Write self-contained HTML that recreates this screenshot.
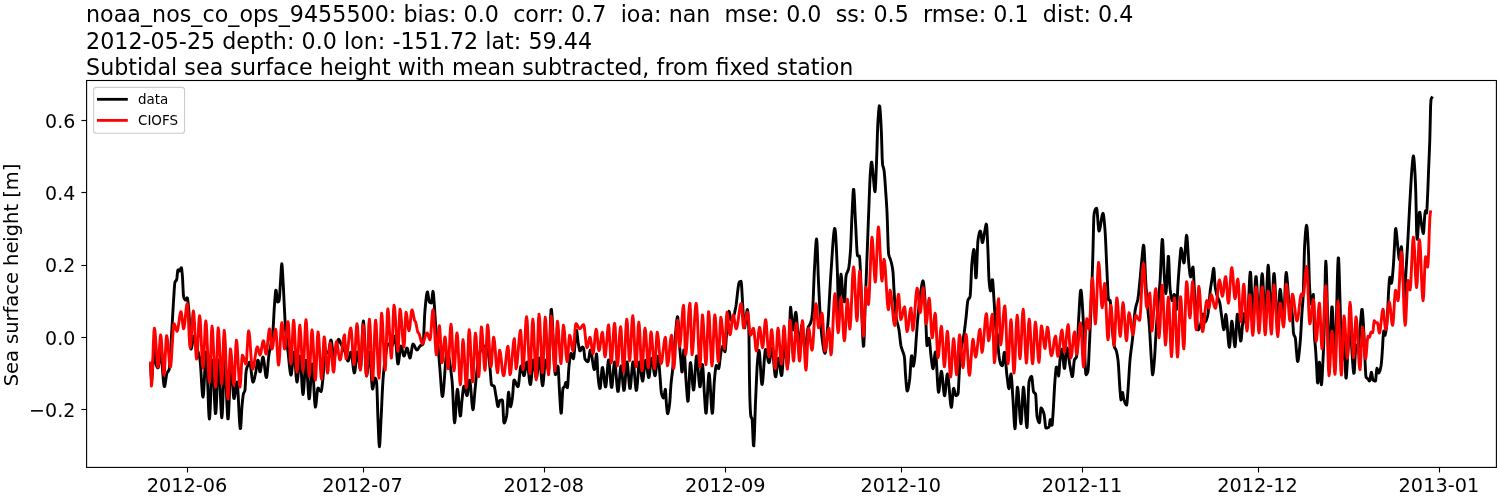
<!DOCTYPE html>
<html lang="en"><head><meta charset="utf-8"><title>Subtidal sea surface height</title>
<style>html,body{margin:0;padding:0;background:#fff;}body{width:1500px;height:500px;overflow:hidden;}svg{display:block;}text{font-family:"DejaVu Sans", "Liberation Sans", sans-serif;fill:#000;}</style></head><body>
<svg width="1500" height="500" viewBox="0 0 1500 500">
<rect width="1500" height="500" fill="#fff"/>
<g font-size="22.2">
<text x="86" y="21.6" textLength="1047.4" lengthAdjust="spacing" xml:space="preserve" style="white-space:pre">noaa_nos_co_ops_9455500: bias: 0.0  corr: 0.7  ioa: nan  mse: 0.0  ss: 0.5  rmse: 0.1  dist: 0.4</text>
<text x="86" y="49.2" textLength="506" lengthAdjust="spacing">2012-05-25 depth: 0.0 lon: -151.72 lat: 59.44</text>
<text x="86" y="74.6" textLength="767.4" lengthAdjust="spacing">Subtidal sea surface height with mean subtracted, from fixed station</text>
</g>
<defs><clipPath id="c"><rect x="86.6" y="80.5" width="1409.8000000000002" height="386.9"/></clipPath></defs>
<g clip-path="url(#c)" fill="none" stroke-linejoin="round" stroke-linecap="square">
<path d="M150.6,365.0 L151.0,374.0 L151.4,379.3 L151.8,379.4 L152.2,375.2 L152.6,368.9 L153.0,362.6 L153.4,357.6 L153.8,352.3 L154.2,348.6 L154.6,348.6 L155.0,352.6 L155.4,358.1 L155.8,362.8 L156.2,364.7 L156.6,365.9 L157.0,366.9 L157.4,367.6 L157.8,367.9 L158.2,367.7 L158.6,365.8 L159.0,362.7 L159.4,359.1 L159.8,355.6 L160.2,353.0 L160.6,352.0 L161.0,353.1 L161.4,356.0 L161.8,360.2 L162.2,365.3 L162.6,370.7 L163.0,376.0 L163.4,380.8 L163.8,384.4 L164.2,386.4 L164.6,386.5 L165.0,385.1 L165.4,382.7 L165.8,379.9 L166.2,377.0 L166.6,374.5 L167.0,373.0 L167.4,372.3 L167.8,371.8 L168.2,371.4 L168.6,370.8 L169.0,370.0 L169.4,367.9 L169.8,363.8 L170.2,358.3 L170.6,351.7 L171.0,344.5 L171.4,337.2 L171.8,330.2 L172.2,323.8 L172.6,316.8 L173.0,309.8 L173.4,303.0 L173.8,296.9 L174.2,290.4 L174.6,284.9 L175.0,282.0 L175.4,281.3 L175.8,281.0 L176.2,280.6 L176.6,280.0 L177.0,277.5 L177.4,273.4 L177.8,270.2 L178.2,269.8 L178.6,270.2 L179.0,270.7 L179.4,271.0 L179.8,270.7 L180.2,269.8 L180.6,268.9 L181.0,268.0 L181.4,267.7 L181.8,269.6 L182.2,273.7 L182.6,279.0 L183.0,287.7 L183.4,295.3 L183.8,297.6 L184.2,298.5 L184.6,299.2 L185.0,299.7 L185.4,300.0 L185.8,299.9 L186.2,299.3 L186.6,298.4 L187.0,297.8 L187.4,298.0 L187.8,300.3 L188.2,303.9 L188.6,308.0 L189.0,313.0 L189.4,319.4 L189.8,326.5 L190.2,334.2 L190.6,344.0 L191.0,349.1 L191.4,348.5 L191.8,346.8 L192.2,344.5 L192.6,341.9 L193.0,339.4 L193.4,337.4 L193.8,336.2 L194.2,336.1 L194.6,336.9 L195.0,338.2 L195.4,340.0 L195.8,342.0 L196.2,344.2 L196.6,346.2 L197.0,348.0 L197.4,349.5 L197.8,350.9 L198.2,352.2 L198.6,353.6 L199.0,355.1 L199.4,356.8 L199.8,358.8 L200.2,361.5 L200.6,366.2 L201.0,372.3 L201.4,379.1 L201.8,385.8 L202.2,391.5 L202.6,395.6 L203.0,397.1 L203.4,395.2 L203.8,390.1 L204.2,382.8 L204.6,374.5 L205.0,366.3 L205.4,359.0 L205.8,353.9 L206.2,352.0 L206.6,354.9 L207.0,362.5 L207.4,373.2 L207.8,385.6 L208.2,397.9 L208.6,408.6 L209.0,416.2 L209.4,419.1 L209.8,416.2 L210.2,408.7 L210.6,398.3 L211.0,386.6 L211.4,375.3 L211.8,366.1 L212.2,360.8 L212.6,360.6 L213.0,365.0 L213.4,372.5 L213.8,382.0 L214.2,392.1 L214.6,401.6 L215.0,409.1 L215.4,413.5 L215.8,413.4 L216.2,408.5 L216.6,400.1 L217.0,389.8 L217.4,379.0 L217.8,369.5 L218.2,362.6 L218.6,360.0 L219.0,362.5 L219.4,369.0 L219.8,378.3 L220.2,388.9 L220.6,399.4 L221.0,408.7 L221.4,415.2 L221.8,417.7 L222.2,414.9 L222.6,407.6 L223.0,397.4 L223.4,386.0 L223.8,375.0 L224.2,366.0 L224.6,360.7 L225.0,360.7 L225.4,365.5 L225.8,373.8 L226.2,384.2 L226.6,395.3 L227.0,405.7 L227.4,414.0 L227.8,418.8 L228.2,418.8 L228.6,413.7 L229.0,405.1 L229.4,394.5 L229.8,383.5 L230.2,373.7 L230.6,366.7 L231.0,364.0 L231.4,365.7 L231.8,370.1 L232.2,376.2 L232.6,383.1 L233.0,389.7 L233.4,395.1 L233.8,398.3 L234.2,398.5 L234.6,397.0 L235.0,394.4 L235.4,391.2 L235.8,387.9 L236.2,384.9 L236.6,382.8 L237.0,382.0 L237.4,383.8 L237.8,388.6 L238.2,395.5 L238.6,403.5 L239.0,411.7 L239.4,419.3 L239.8,425.2 L240.2,428.6 L240.6,428.3 L241.0,423.3 L241.4,415.8 L241.8,408.6 L242.2,403.9 L242.6,399.8 L243.0,396.3 L243.4,394.0 L243.8,392.8 L244.2,392.1 L244.6,391.4 L245.0,390.0 L245.4,383.6 L245.8,374.5 L246.2,370.8 L246.6,368.9 L247.0,367.5 L247.4,366.4 L247.8,365.5 L248.2,364.5 L248.6,363.5 L249.0,362.6 L249.4,362.1 L249.8,362.2 L250.2,363.7 L250.6,366.2 L251.0,369.4 L251.4,372.9 L251.8,376.4 L252.2,379.3 L252.6,381.3 L253.0,382.1 L253.4,381.7 L253.8,380.8 L254.2,379.3 L254.6,377.6 L255.0,375.7 L255.4,373.9 L255.8,372.0 L256.2,369.5 L256.6,366.7 L257.0,363.9 L257.4,361.6 L257.8,360.2 L258.2,360.3 L258.6,362.6 L259.0,366.0 L259.4,369.4 L259.8,371.7 L260.2,371.8 L260.6,370.4 L261.0,368.1 L261.4,365.2 L261.8,362.3 L262.2,359.6 L262.6,357.7 L263.0,357.0 L263.4,357.8 L263.8,359.9 L264.2,362.9 L264.6,366.4 L265.0,370.1 L265.4,373.4 L265.8,376.0 L266.2,377.5 L266.6,377.4 L267.0,375.2 L267.4,371.4 L267.8,366.7 L268.2,361.8 L268.6,357.3 L269.0,354.0 L269.4,351.7 L269.8,349.8 L270.2,348.0 L270.6,346.1 L271.0,344.0 L271.4,341.7 L271.8,339.3 L272.2,336.7 L272.6,333.7 L273.0,330.0 L273.4,324.2 L273.8,316.4 L274.2,309.0 L274.6,303.4 L275.0,297.9 L275.4,293.2 L275.8,290.3 L276.2,290.4 L276.6,293.7 L277.0,298.2 L277.4,301.5 L277.8,302.0 L278.2,301.8 L278.6,301.5 L279.0,301.0 L279.4,298.4 L279.8,292.9 L280.2,286.2 L280.6,280.0 L281.0,273.4 L281.4,266.7 L281.8,263.7 L282.2,266.5 L282.6,272.9 L283.0,280.0 L283.4,287.3 L283.8,295.6 L284.2,304.0 L284.6,311.9 L285.0,319.9 L285.4,327.1 L285.8,332.5 L286.2,336.8 L286.6,340.5 L287.0,344.0 L287.4,347.3 L287.8,350.4 L288.2,353.7 L288.6,357.4 L289.0,361.5 L289.4,365.5 L289.8,369.2 L290.2,372.3 L290.6,374.3 L291.0,375.1 L291.4,374.0 L291.8,371.0 L292.2,367.0 L292.6,362.4 L293.0,358.0 L293.4,354.4 L293.8,352.3 L294.2,352.4 L294.6,355.1 L295.0,359.8 L295.4,365.5 L295.8,371.5 L296.2,376.8 L296.6,380.6 L297.0,382.1 L297.4,380.8 L297.8,377.5 L298.2,372.9 L298.6,367.7 L299.0,362.8 L299.4,358.7 L299.8,356.3 L300.2,356.5 L300.6,360.0 L301.0,366.0 L301.4,373.3 L301.8,380.9 L302.2,387.7 L302.6,392.6 L303.0,394.5 L303.4,392.8 L303.8,388.4 L304.2,382.4 L304.6,375.5 L305.0,368.9 L305.4,363.6 L305.8,360.4 L306.2,360.4 L306.6,363.6 L307.0,369.1 L307.4,375.9 L307.8,383.2 L308.2,390.0 L308.6,395.5 L309.0,398.7 L309.4,398.7 L309.8,395.4 L310.2,390.0 L310.6,383.3 L311.0,376.4 L311.4,370.2 L311.8,365.7 L312.2,364.0 L312.6,365.9 L313.0,370.7 L313.4,377.6 L313.8,385.6 L314.2,393.5 L314.6,400.4 L315.0,405.2 L315.4,407.1 L315.8,405.9 L316.2,402.8 L316.6,398.6 L317.0,394.3 L317.4,390.6 L317.8,388.3 L318.2,388.0 L318.6,388.4 L319.0,388.9 L319.4,389.6 L319.8,390.3 L320.2,390.9 L320.6,391.3 L321.0,391.5 L321.4,390.7 L321.8,388.5 L322.2,385.3 L322.6,381.7 L323.0,378.0 L323.4,373.0 L323.8,366.3 L324.2,359.4 L324.6,354.1 L325.0,352.0 L325.4,352.1 L325.8,352.2 L326.2,352.4 L326.6,352.6 L327.0,352.8 L327.4,353.0 L327.8,353.1 L328.2,352.9 L328.6,351.7 L329.0,349.7 L329.4,347.2 L329.8,344.6 L330.2,342.3 L330.6,340.6 L331.0,340.0 L331.4,340.9 L331.8,343.3 L332.2,346.6 L332.6,350.3 L333.0,353.9 L333.4,356.8 L333.8,358.5 L334.2,358.5 L334.6,357.1 L335.0,354.9 L335.4,352.1 L335.8,349.3 L336.2,346.9 L336.6,345.2 L337.0,343.6 L337.4,342.0 L337.8,340.6 L338.2,339.7 L338.6,339.3 L339.0,339.5 L339.4,340.2 L339.8,341.1 L340.2,342.1 L340.6,343.1 L341.0,344.0 L341.4,344.8 L341.8,345.5 L342.2,346.3 L342.6,347.0 L343.0,347.8 L343.4,348.5 L343.8,349.3 L344.2,350.2 L344.6,351.1 L345.0,352.0 L345.4,353.2 L345.8,354.6 L346.2,356.3 L346.6,357.9 L347.0,359.3 L347.4,360.4 L347.8,361.0 L348.2,361.0 L348.6,360.2 L349.0,358.7 L349.4,357.0 L349.8,355.2 L350.2,353.6 L350.6,352.4 L351.0,352.0 L351.4,352.8 L351.8,355.0 L352.2,358.0 L352.6,361.6 L353.0,365.3 L353.4,368.7 L353.8,371.4 L354.2,372.9 L354.6,372.8 L355.0,370.9 L355.4,367.6 L355.8,363.6 L356.2,359.4 L356.6,355.7 L357.0,353.0 L357.4,352.0 L357.8,352.8 L358.2,354.9 L358.6,357.9 L359.0,361.2 L359.4,364.4 L359.8,367.0 L360.2,368.5 L360.6,368.1 L361.0,363.7 L361.4,356.3 L361.8,347.2 L362.2,337.7 L362.6,329.3 L363.0,323.2 L363.4,320.9 L363.8,323.3 L364.2,329.5 L364.6,338.2 L365.0,348.3 L365.4,358.4 L365.8,367.1 L366.2,373.3 L366.6,375.7 L367.0,374.5 L367.4,371.5 L367.8,367.4 L368.2,362.7 L368.6,358.1 L369.0,354.5 L369.4,352.3 L369.8,352.5 L370.2,355.9 L370.6,361.6 L371.0,368.7 L371.4,376.0 L371.8,382.6 L372.2,387.3 L372.6,389.1 L373.0,388.3 L373.4,386.2 L373.8,383.5 L374.2,380.9 L374.6,378.8 L375.0,378.0 L375.4,378.3 L375.8,379.1 L376.2,380.3 L376.6,382.0 L377.0,388.7 L377.4,401.3 L377.8,414.7 L378.2,424.8 L378.6,434.9 L379.0,443.2 L379.4,446.7 L379.8,443.9 L380.2,437.0 L380.6,428.3 L381.0,420.0 L381.4,412.1 L381.8,403.3 L382.2,394.4 L382.6,386.4 L383.0,380.0 L383.4,375.0 L383.8,370.5 L384.2,366.5 L384.6,363.0 L385.0,360.0 L385.4,357.1 L385.8,354.1 L386.2,351.3 L386.6,348.7 L387.0,346.6 L387.4,345.0 L387.8,344.1 L388.2,344.0 L388.6,344.1 L389.0,344.3 L389.4,344.6 L389.8,344.9 L390.2,345.1 L390.6,345.4 L391.0,345.7 L391.4,345.9 L391.8,346.0 L392.2,345.9 L392.6,345.0 L393.0,343.4 L393.4,341.5 L393.8,339.5 L394.2,337.8 L394.6,336.5 L395.0,336.0 L395.4,337.4 L395.8,340.9 L396.2,345.9 L396.6,351.5 L397.0,356.8 L397.4,361.2 L397.8,363.7 L398.2,363.9 L398.6,362.2 L399.0,359.4 L399.4,356.0 L399.8,352.4 L400.2,349.2 L400.6,346.9 L401.0,346.0 L401.4,346.5 L401.8,347.8 L402.2,349.6 L402.6,351.6 L403.0,353.5 L403.4,355.0 L403.8,356.0 L404.2,356.0 L404.6,355.3 L405.0,354.0 L405.4,352.5 L405.8,350.9 L406.2,349.4 L406.6,348.4 L407.0,348.0 L407.4,348.5 L407.8,349.8 L408.2,351.6 L408.6,353.6 L409.0,355.5 L409.4,357.0 L409.8,358.0 L410.2,357.9 L410.6,356.6 L411.0,354.4 L411.4,351.8 L411.8,349.0 L412.2,346.5 L412.6,344.7 L413.0,344.0 L413.4,344.2 L413.8,344.6 L414.2,345.3 L414.6,346.1 L415.0,347.0 L415.4,347.9 L415.8,348.7 L416.2,349.4 L416.6,349.8 L417.0,350.0 L417.4,349.8 L417.8,349.4 L418.2,348.8 L418.6,348.2 L419.0,347.4 L419.4,346.8 L419.8,346.2 L420.2,345.8 L420.6,345.6 L421.0,345.4 L421.4,345.2 L421.8,345.0 L422.2,344.8 L422.6,344.5 L423.0,344.0 L423.4,340.8 L423.8,333.7 L424.2,324.8 L424.6,316.2 L425.0,310.0 L425.4,305.7 L425.8,301.5 L426.2,297.8 L426.6,294.7 L427.0,292.7 L427.4,291.9 L427.8,292.9 L428.2,295.3 L428.6,298.2 L429.0,300.7 L429.4,302.0 L429.8,302.3 L430.2,302.6 L430.6,302.8 L431.0,303.0 L431.4,303.0 L431.8,301.2 L432.2,297.1 L432.6,293.1 L433.0,291.3 L433.4,293.2 L433.8,297.8 L434.2,303.4 L434.6,308.7 L435.0,315.0 L435.4,321.7 L435.8,327.6 L436.2,332.0 L436.6,335.3 L437.0,338.2 L437.4,341.1 L437.8,344.2 L438.2,348.0 L438.6,352.5 L439.0,357.5 L439.4,362.6 L439.8,367.6 L440.2,372.5 L440.6,378.1 L441.0,384.0 L441.4,389.5 L441.8,393.8 L442.2,396.4 L442.6,396.5 L443.0,394.6 L443.4,391.3 L443.8,386.8 L444.2,381.5 L444.6,375.8 L445.0,370.0 L445.4,364.5 L445.8,359.5 L446.2,355.6 L446.6,353.0 L447.0,352.0 L447.4,352.2 L447.8,353.0 L448.2,354.1 L448.6,355.7 L449.0,357.6 L449.4,359.9 L449.8,362.4 L450.2,365.2 L450.6,368.3 L451.0,371.5 L451.4,374.8 L451.8,378.2 L452.2,382.2 L452.6,388.9 L453.0,397.4 L453.4,406.4 L453.8,414.6 L454.2,420.4 L454.6,422.7 L455.0,420.8 L455.4,416.1 L455.8,409.6 L456.2,402.4 L456.6,395.9 L457.0,391.2 L457.4,389.3 L457.8,390.6 L458.2,394.0 L458.6,398.8 L459.0,404.1 L459.4,409.3 L459.8,413.5 L460.2,416.0 L460.6,415.8 L461.0,412.3 L461.4,407.1 L461.8,402.0 L462.2,398.3 L462.6,394.5 L463.0,390.9 L463.4,388.0 L463.8,386.2 L464.2,386.1 L464.6,387.0 L465.0,388.5 L465.4,390.4 L465.8,392.3 L466.2,394.0 L466.6,395.2 L467.0,395.7 L467.4,394.7 L467.8,392.2 L468.2,388.8 L468.6,385.2 L469.0,382.1 L469.4,380.3 L469.8,380.3 L470.2,382.4 L470.6,386.2 L471.0,391.0 L471.4,396.2 L471.8,401.2 L472.2,405.5 L472.6,408.6 L473.0,409.7 L473.4,408.3 L473.8,404.7 L474.2,399.8 L474.6,394.6 L475.0,390.0 L475.4,385.9 L475.8,381.6 L476.2,377.3 L476.6,373.4 L477.0,370.0 L477.4,366.9 L477.8,363.9 L478.2,361.1 L478.6,358.4 L479.0,356.1 L479.4,354.1 L479.8,352.6 L480.2,351.5 L480.6,350.6 L481.0,349.7 L481.4,348.8 L481.8,348.1 L482.2,347.5 L482.6,346.9 L483.0,346.5 L483.4,346.2 L483.8,346.0 L484.2,346.0 L484.6,346.2 L485.0,346.4 L485.4,346.8 L485.8,347.3 L486.2,348.0 L486.6,348.7 L487.0,349.5 L487.4,350.5 L487.8,351.5 L488.2,352.7 L488.6,355.1 L489.0,358.4 L489.4,362.2 L489.8,366.1 L490.2,370.1 L490.6,375.4 L491.0,380.7 L491.4,384.3 L491.8,385.2 L492.2,385.4 L492.6,385.5 L493.0,385.6 L493.4,385.7 L493.8,385.9 L494.2,386.3 L494.6,387.7 L495.0,389.9 L495.4,392.4 L495.8,394.9 L496.2,397.1 L496.6,399.8 L497.0,402.6 L497.4,405.0 L497.8,406.5 L498.2,406.5 L498.6,405.3 L499.0,403.6 L499.4,401.8 L499.8,400.5 L500.2,400.3 L500.6,400.2 L501.0,400.1 L501.4,400.1 L501.8,400.0 L502.2,400.0 L502.6,401.0 L503.0,407.3 L503.4,415.8 L503.8,422.1 L504.2,423.0 L504.6,422.6 L505.0,421.8 L505.4,420.7 L505.8,419.4 L506.2,417.8 L506.6,416.0 L507.0,412.4 L507.4,406.3 L507.8,399.8 L508.2,394.5 L508.6,392.3 L509.0,394.1 L509.4,398.3 L509.8,403.0 L510.2,406.2 L510.6,406.6 L511.0,405.6 L511.4,403.9 L511.8,401.8 L512.2,399.3 L512.6,396.2 L513.0,390.8 L513.4,384.8 L513.8,380.6 L514.2,380.0 L514.6,380.4 L515.0,381.0 L515.4,381.9 L515.8,382.8 L516.2,383.9 L516.6,384.8 L517.0,385.7 L517.4,386.3 L517.8,386.7 L518.2,386.4 L518.6,384.5 L519.0,381.3 L519.4,377.4 L519.8,373.3 L520.2,369.6 L520.6,367.0 L521.0,366.0 L521.4,366.5 L521.8,367.7 L522.2,369.4 L522.6,371.3 L523.0,373.2 L523.4,374.7 L523.8,375.6 L524.2,375.5 L524.6,374.3 L525.0,372.1 L525.4,369.5 L525.8,366.8 L526.2,364.4 L526.6,362.7 L527.0,362.0 L527.4,362.9 L527.8,365.2 L528.2,368.5 L528.6,372.3 L529.0,376.3 L529.4,380.0 L529.8,382.8 L530.2,384.5 L530.6,384.4 L531.0,382.1 L531.4,378.3 L531.8,373.6 L532.2,368.7 L532.6,364.3 L533.0,361.2 L533.4,360.0 L533.8,360.9 L534.2,363.2 L534.6,366.3 L535.0,369.9 L535.4,373.3 L535.8,376.1 L536.2,377.8 L536.6,377.7 L537.0,375.9 L537.4,372.8 L537.8,369.0 L538.2,365.0 L538.6,361.5 L539.0,359.0 L539.4,358.0 L539.8,359.2 L540.2,362.3 L540.6,366.8 L541.0,371.9 L541.4,376.9 L541.8,381.4 L542.2,384.5 L542.6,385.7 L543.0,384.5 L543.4,381.2 L543.8,376.7 L544.2,371.6 L544.6,366.7 L545.0,362.7 L545.4,360.3 L545.8,360.1 L546.2,361.0 L546.6,362.6 L547.0,364.5 L547.4,366.5 L547.8,368.2 L548.2,369.5 L548.6,370.0 L549.0,366.1 L549.4,356.2 L549.8,343.0 L550.2,329.1 L550.6,317.2 L551.0,309.9 L551.4,309.3 L551.8,312.5 L552.2,318.3 L552.6,326.0 L553.0,334.8 L553.4,344.1 L553.8,353.3 L554.2,361.7 L554.6,368.4 L555.0,373.0 L555.4,374.7 L555.8,374.1 L556.2,372.7 L556.6,370.9 L557.0,368.9 L557.4,367.2 L557.8,366.1 L558.2,367.0 L558.6,373.2 L559.0,382.2 L559.4,390.0 L559.8,396.6 L560.2,403.6 L560.6,409.6 L561.0,413.2 L561.4,412.8 L561.8,407.2 L562.2,399.0 L562.6,391.6 L563.0,388.0 L563.4,387.6 L563.8,387.4 L564.2,387.2 L564.6,386.6 L565.0,385.2 L565.4,383.6 L565.8,382.5 L566.2,382.6 L566.6,384.4 L567.0,386.6 L567.4,387.7 L567.8,385.0 L568.2,378.6 L568.6,371.4 L569.0,366.0 L569.4,362.4 L569.8,359.0 L570.2,356.1 L570.6,354.1 L571.0,353.3 L571.4,353.7 L571.8,354.7 L572.2,356.0 L572.6,357.3 L573.0,358.3 L573.4,358.7 L573.8,357.3 L574.2,353.6 L574.6,348.9 L575.0,344.1 L575.4,339.8 L575.8,334.6 L576.2,330.6 L576.6,330.3 L577.0,332.4 L577.4,335.7 L577.8,339.4 L578.2,342.7 L578.6,345.1 L579.0,347.5 L579.4,349.5 L579.8,350.8 L580.2,350.9 L580.6,350.4 L581.0,349.5 L581.4,348.5 L581.8,347.6 L582.2,347.1 L582.6,347.0 L583.0,347.4 L583.4,348.0 L583.8,349.2 L584.2,352.7 L584.6,356.7 L585.0,359.0 L585.4,359.7 L585.8,360.2 L586.2,360.7 L586.6,361.1 L587.0,361.4 L587.4,361.6 L587.8,361.7 L588.2,361.5 L588.6,359.9 L589.0,357.3 L589.4,354.4 L589.8,351.8 L590.2,350.2 L590.6,350.1 L591.0,351.2 L591.4,353.1 L591.8,355.6 L592.2,358.4 L592.6,361.3 L593.0,364.1 L593.4,366.6 L593.8,368.5 L594.2,369.6 L594.6,369.3 L595.0,366.8 L595.4,362.9 L595.8,358.7 L596.2,355.4 L596.6,354.0 L597.0,357.6 L597.4,365.5 L597.8,373.4 L598.2,377.9 L598.6,381.5 L599.0,384.7 L599.4,387.1 L599.8,388.5 L600.2,388.3 L600.6,385.4 L601.0,380.7 L601.4,375.3 L601.8,370.6 L602.2,367.7 L602.6,367.5 L603.0,369.1 L603.4,371.9 L603.8,375.4 L604.2,379.0 L604.6,382.5 L605.0,385.3 L605.4,386.9 L605.8,386.8 L606.2,384.3 L606.6,380.1 L607.0,374.9 L607.4,369.5 L607.8,364.8 L608.2,361.3 L608.6,360.0 L609.0,361.3 L609.4,364.9 L609.8,369.8 L610.2,375.2 L610.6,380.5 L611.0,384.8 L611.4,387.3 L611.8,387.4 L612.2,385.0 L612.6,381.0 L613.0,376.1 L613.4,371.0 L613.8,366.5 L614.2,363.2 L614.6,362.0 L615.0,363.1 L615.4,366.2 L615.8,370.5 L616.2,375.5 L616.6,380.7 L617.0,385.5 L617.4,389.3 L617.8,391.4 L618.2,391.4 L618.6,389.0 L619.0,385.0 L619.4,380.1 L619.8,375.0 L620.2,370.5 L620.6,367.2 L621.0,366.0 L621.4,367.2 L621.8,370.3 L622.2,374.7 L622.6,379.6 L623.0,384.3 L623.4,388.1 L623.8,390.4 L624.2,390.3 L624.6,387.7 L625.0,383.3 L625.4,377.8 L625.8,372.1 L626.2,367.0 L626.6,363.4 L627.0,362.0 L627.4,363.3 L627.8,366.7 L628.2,371.4 L628.6,376.7 L629.0,381.8 L629.4,385.9 L629.8,388.4 L630.2,388.4 L630.6,385.9 L631.0,381.8 L631.4,376.7 L631.8,371.4 L632.2,366.7 L632.6,363.3 L633.0,362.0 L633.4,363.1 L633.8,366.0 L634.2,370.2 L634.6,375.1 L635.0,380.1 L635.4,384.7 L635.8,388.3 L636.2,390.4 L636.6,390.3 L637.0,387.7 L637.4,383.3 L637.8,377.8 L638.2,372.1 L638.6,367.0 L639.0,363.4 L639.4,362.0 L639.8,362.8 L640.2,365.0 L640.6,368.0 L641.0,371.6 L641.4,375.1 L641.8,378.1 L642.2,380.3 L642.6,381.1 L643.0,380.1 L643.4,377.4 L643.8,373.7 L644.2,369.5 L644.6,365.5 L645.0,362.2 L645.4,360.3 L645.8,360.2 L646.2,361.6 L646.6,364.1 L647.0,367.2 L647.4,370.5 L647.8,373.6 L648.2,376.1 L648.6,377.5 L649.0,377.4 L649.4,375.4 L649.8,372.0 L650.2,367.8 L650.6,363.7 L651.0,360.3 L651.4,358.3 L651.8,358.2 L652.2,359.5 L652.6,361.7 L653.0,364.5 L653.4,367.6 L653.8,370.6 L654.2,373.2 L654.6,375.0 L655.0,375.7 L655.4,374.7 L655.8,372.2 L656.2,368.8 L656.6,364.9 L657.0,361.1 L657.4,358.0 L657.8,356.3 L658.2,356.4 L658.6,358.9 L659.0,363.2 L659.4,368.4 L659.8,373.7 L660.2,378.5 L660.6,384.3 L661.0,389.7 L661.4,393.0 L661.8,394.5 L662.2,395.8 L662.6,396.8 L663.0,397.6 L663.4,398.0 L663.8,397.7 L664.2,395.7 L664.6,392.9 L665.0,390.4 L665.4,389.3 L665.8,393.5 L666.2,401.1 L666.6,406.2 L667.0,410.4 L667.4,413.3 L667.8,413.6 L668.2,412.5 L668.6,410.7 L669.0,408.3 L669.4,405.5 L669.8,402.1 L670.2,396.3 L670.6,389.6 L671.0,384.0 L671.4,380.1 L671.8,376.9 L672.2,373.7 L672.6,370.0 L673.0,365.5 L673.4,360.5 L673.8,355.1 L674.2,349.7 L674.6,344.6 L675.0,340.0 L675.4,335.5 L675.8,330.7 L676.2,325.9 L676.6,321.8 L677.0,318.6 L677.4,316.7 L677.8,317.1 L678.2,321.3 L678.6,328.1 L679.0,335.9 L679.4,343.1 L679.8,348.5 L680.2,353.2 L680.6,357.6 L681.0,362.0 L681.4,367.4 L681.8,371.9 L682.2,372.0 L682.6,367.6 L683.0,361.0 L683.4,354.4 L683.8,350.0 L684.2,349.9 L684.6,354.3 L685.0,361.5 L685.4,369.6 L685.8,377.1 L686.2,382.7 L686.6,388.4 L687.0,394.0 L687.4,398.6 L687.8,401.3 L688.2,400.9 L688.6,395.5 L689.0,386.9 L689.4,377.1 L689.8,368.5 L690.2,363.1 L690.6,362.6 L691.0,364.9 L691.4,368.8 L691.8,373.7 L692.2,378.9 L692.6,383.8 L693.0,387.7 L693.4,390.0 L693.8,389.9 L694.2,386.7 L694.6,381.4 L695.0,374.9 L695.4,368.1 L695.8,362.0 L696.2,357.7 L696.6,356.0 L697.0,357.2 L697.4,360.4 L697.8,364.9 L698.2,370.2 L698.6,375.6 L699.0,380.6 L699.4,384.5 L699.8,386.8 L700.2,386.6 L700.6,383.5 L701.0,378.4 L701.4,372.7 L701.8,367.6 L702.2,364.5 L702.6,364.6 L703.0,368.8 L703.4,375.6 L703.8,383.6 L704.2,391.0 L704.6,396.9 L705.0,403.4 L705.4,409.4 L705.8,413.1 L706.2,413.2 L706.6,409.5 L707.0,403.2 L707.4,395.5 L707.8,387.5 L708.2,380.4 L708.6,375.3 L709.0,373.3 L709.4,374.8 L709.8,379.0 L710.2,384.8 L710.6,391.7 L711.0,398.8 L711.4,405.3 L711.8,410.4 L712.2,413.3 L712.6,412.9 L713.0,407.7 L713.4,399.4 L713.8,390.3 L714.2,382.6 L714.6,377.9 L715.0,373.8 L715.4,370.1 L715.8,367.2 L716.2,365.5 L716.6,365.4 L717.0,365.9 L717.4,366.8 L717.8,367.7 L718.2,368.4 L718.6,368.7 L719.0,367.7 L719.4,365.1 L719.8,361.6 L720.2,357.8 L720.6,354.4 L721.0,352.0 L721.4,350.3 L721.8,348.7 L722.2,347.3 L722.6,346.4 L723.0,346.0 L723.4,346.6 L723.8,348.0 L724.2,349.7 L724.6,351.1 L725.0,351.7 L725.4,349.9 L725.8,345.2 L726.2,339.2 L726.6,333.0 L727.0,328.0 L727.4,323.8 L727.8,319.3 L728.2,315.3 L728.6,312.4 L729.0,311.3 L729.4,312.2 L729.8,314.4 L730.2,316.9 L730.6,319.1 L731.0,320.0 L731.4,319.9 L731.8,319.6 L732.2,319.1 L732.6,318.6 L733.0,318.0 L733.4,317.2 L733.8,316.0 L734.2,314.5 L734.6,312.8 L735.0,310.9 L735.4,309.0 L735.8,306.9 L736.2,304.3 L736.6,301.1 L737.0,297.5 L737.4,293.9 L737.8,290.5 L738.2,287.3 L738.6,284.7 L739.0,282.9 L739.4,282.0 L739.8,281.7 L740.2,281.5 L740.6,281.4 L741.0,281.3 L741.4,283.4 L741.8,288.8 L742.2,296.0 L742.6,303.6 L743.0,310.0 L743.4,316.3 L743.8,322.9 L744.2,327.3 L744.6,327.8 L745.0,326.1 L745.4,323.2 L745.8,319.7 L746.2,316.0 L746.6,312.7 L747.0,310.4 L747.4,309.5 L747.8,311.3 L748.2,316.5 L748.6,324.8 L749.0,336.0 L749.4,374.3 L749.8,396.5 L750.2,407.1 L750.6,414.0 L751.0,417.0 L751.4,417.6 L751.8,418.0 L752.2,420.0 L752.6,427.9 L753.0,438.1 L753.4,445.5 L753.8,445.8 L754.2,439.3 L754.6,428.7 L755.0,416.4 L755.4,404.8 L755.8,395.6 L756.2,386.3 L756.6,377.1 L757.0,368.9 L757.4,362.4 L757.8,358.0 L758.2,354.2 L758.6,351.4 L759.0,350.3 L759.4,352.0 L759.8,356.3 L760.2,362.4 L760.6,369.2 L761.0,375.8 L761.4,381.1 L761.8,384.3 L762.2,384.4 L762.6,382.1 L763.0,378.0 L763.4,372.8 L763.8,367.0 L764.2,361.2 L764.6,356.0 L765.0,351.9 L765.4,349.6 L765.8,349.4 L766.2,350.4 L766.6,352.1 L767.0,354.2 L767.4,356.6 L767.8,358.9 L768.2,360.8 L768.6,362.2 L769.0,362.7 L769.4,362.0 L769.8,360.1 L770.2,357.5 L770.6,354.6 L771.0,351.8 L771.4,349.5 L771.8,348.2 L772.2,348.3 L772.6,350.2 L773.0,353.5 L773.4,357.8 L773.8,362.6 L774.2,367.3 L774.6,371.6 L775.0,374.9 L775.4,376.8 L775.8,376.8 L776.2,374.8 L776.6,371.5 L777.0,367.5 L777.4,363.6 L777.8,360.3 L778.2,358.3 L778.6,358.2 L779.0,359.6 L779.4,362.1 L779.8,365.2 L780.2,368.5 L780.6,371.6 L781.0,374.1 L781.4,375.5 L781.8,375.3 L782.2,372.2 L782.6,367.0 L783.0,360.8 L783.4,354.7 L783.8,349.5 L784.2,346.4 L784.6,346.2 L785.0,347.7 L785.4,350.3 L785.8,353.6 L786.2,357.1 L786.6,360.4 L787.0,363.0 L787.4,364.5 L787.8,364.2 L788.2,360.6 L788.6,354.1 L789.0,345.5 L789.4,335.6 L789.8,325.2 L790.2,312.1 L790.6,307.1 L791.0,309.8 L791.4,314.4 L791.8,319.7 L792.2,324.7 L792.6,328.5 L793.0,330.0 L793.4,329.0 L793.8,326.5 L794.2,323.0 L794.6,319.3 L795.0,315.8 L795.4,313.3 L795.8,312.3 L796.2,313.7 L796.6,317.4 L797.0,322.6 L797.4,328.7 L797.8,334.7 L798.2,339.9 L798.6,343.6 L799.0,345.0 L799.4,344.0 L799.8,341.5 L800.2,338.0 L800.6,334.0 L801.0,330.2 L801.4,327.1 L801.8,325.3 L802.2,325.3 L802.6,327.6 L803.0,331.5 L803.4,336.3 L803.8,341.2 L804.2,345.6 L804.6,348.8 L805.0,350.0 L805.4,349.1 L805.8,346.6 L806.2,343.2 L806.6,339.2 L807.0,335.1 L807.4,331.5 L807.8,328.8 L808.2,327.4 L808.6,326.4 L809.0,325.7 L809.4,325.1 L809.8,324.5 L810.2,323.8 L810.6,323.0 L811.0,321.8 L811.4,320.1 L811.8,317.8 L812.2,314.7 L812.6,310.9 L813.0,304.0 L813.4,294.4 L813.8,283.9 L814.2,274.0 L814.6,266.3 L815.0,258.9 L815.4,251.5 L815.8,245.1 L816.2,240.6 L816.6,238.9 L817.0,242.4 L817.4,251.3 L817.8,262.8 L818.2,274.6 L818.6,284.1 L819.0,292.7 L819.4,301.0 L819.8,308.6 L820.2,315.3 L820.6,321.6 L821.0,327.4 L821.4,332.1 L821.8,335.7 L822.2,339.0 L822.6,342.2 L823.0,345.2 L823.4,347.8 L823.8,350.0 L824.2,351.7 L824.6,352.8 L825.0,353.2 L825.4,352.3 L825.8,349.7 L826.2,345.9 L826.6,341.1 L827.0,335.8 L827.4,330.2 L827.8,324.6 L828.2,319.3 L828.6,313.2 L829.0,306.4 L829.4,299.2 L829.8,291.8 L830.2,284.7 L830.6,278.0 L831.0,272.0 L831.4,266.3 L831.8,260.2 L832.2,254.0 L832.6,247.9 L833.0,242.3 L833.4,237.3 L833.8,233.1 L834.2,230.1 L834.6,228.5 L835.0,228.7 L835.4,231.7 L835.8,237.1 L836.2,244.4 L836.6,253.0 L837.0,262.4 L837.4,272.0 L837.8,287.1 L838.2,305.2 L838.6,314.0 L839.0,311.1 L839.4,303.7 L839.8,294.1 L840.2,284.6 L840.6,277.2 L841.0,274.3 L841.4,276.2 L841.8,280.8 L842.2,286.7 L842.6,292.3 L843.0,296.0 L843.4,298.3 L843.8,300.3 L844.2,301.7 L844.6,301.7 L845.0,295.8 L845.4,286.3 L845.8,278.0 L846.2,275.1 L846.6,273.7 L847.0,272.7 L847.4,272.0 L847.8,271.2 L848.2,270.1 L848.6,268.5 L849.0,266.2 L849.4,263.0 L849.8,259.1 L850.2,254.5 L850.6,248.8 L851.0,239.9 L851.4,229.4 L851.8,219.2 L852.2,210.9 L852.6,202.2 L853.0,194.3 L853.4,189.4 L853.8,189.4 L854.2,194.4 L854.6,202.5 L855.0,211.7 L855.4,220.2 L855.8,227.6 L856.2,236.1 L856.6,244.4 L857.0,251.3 L857.4,255.4 L857.8,256.0 L858.2,256.0 L858.6,256.0 L859.0,256.0 L859.4,256.0 L859.8,259.1 L860.2,266.3 L860.6,275.0 L861.0,286.4 L861.4,301.0 L861.8,314.7 L862.2,324.6 L862.6,333.8 L863.0,341.7 L863.4,346.4 L863.8,345.7 L864.2,336.4 L864.6,322.7 L865.0,310.0 L865.4,299.5 L865.8,289.0 L866.2,278.5 L866.6,268.0 L867.0,257.3 L867.4,246.6 L867.8,235.8 L868.2,225.3 L868.6,215.0 L869.0,204.3 L869.4,193.3 L869.8,183.1 L870.2,174.9 L870.6,169.5 L871.0,165.0 L871.4,162.1 L871.8,162.1 L872.2,165.0 L872.6,169.4 L873.0,174.0 L873.4,177.9 L873.8,182.4 L874.2,186.9 L874.6,190.3 L875.0,191.7 L875.4,188.5 L875.8,180.6 L876.2,170.3 L876.6,160.0 L877.0,148.2 L877.4,134.6 L877.8,123.8 L878.2,117.5 L878.6,112.0 L879.0,107.8 L879.4,105.8 L879.8,106.7 L880.2,110.8 L880.6,116.9 L881.0,124.3 L881.4,132.2 L881.8,145.1 L882.2,158.5 L882.6,164.7 L883.0,166.5 L883.4,167.6 L883.8,169.0 L884.2,171.5 L884.6,175.8 L885.0,181.2 L885.4,187.1 L885.8,192.8 L886.2,198.5 L886.6,204.8 L887.0,212.0 L887.4,222.5 L887.8,235.8 L888.2,247.7 L888.6,254.0 L889.0,255.8 L889.4,257.0 L889.8,257.9 L890.2,258.8 L890.6,260.0 L891.0,261.5 L891.4,262.9 L891.8,264.6 L892.2,266.5 L892.6,269.0 L893.0,272.0 L893.4,278.1 L893.8,286.4 L894.2,293.1 L894.6,299.2 L895.0,305.1 L895.4,310.2 L895.8,314.4 L896.2,317.3 L896.6,319.6 L897.0,321.4 L897.4,323.0 L897.8,324.5 L898.2,326.1 L898.6,327.8 L899.0,330.0 L899.4,332.9 L899.8,336.5 L900.2,340.2 L900.6,343.6 L901.0,346.0 L901.4,347.5 L901.8,348.7 L902.2,349.8 L902.6,351.0 L903.0,352.1 L903.4,353.2 L903.8,354.3 L904.2,355.9 L904.6,358.9 L905.0,365.6 L905.4,373.1 L905.8,378.5 L906.2,383.6 L906.6,388.0 L907.0,390.7 L907.4,391.0 L907.8,390.1 L908.2,388.6 L908.6,386.5 L909.0,384.0 L909.4,381.4 L909.8,378.2 L910.2,372.7 L910.6,365.9 L911.0,359.8 L911.4,355.9 L911.8,355.8 L912.2,358.8 L912.6,362.8 L913.0,365.8 L913.4,366.1 L913.8,364.7 L914.2,362.3 L914.6,359.3 L915.0,356.0 L915.4,351.4 L915.8,345.3 L916.2,338.9 L916.6,333.3 L917.0,328.0 L917.4,322.9 L917.8,318.2 L918.2,313.9 L918.6,309.9 L919.0,305.9 L919.4,302.2 L919.8,298.7 L920.2,295.4 L920.6,292.5 L921.0,290.0 L921.4,287.6 L921.8,285.1 L922.2,283.0 L922.6,281.5 L923.0,280.9 L923.4,282.0 L923.8,284.8 L924.2,289.1 L924.6,294.3 L925.0,300.0 L925.4,308.7 L925.8,320.0 L926.2,330.1 L926.6,340.6 L927.0,345.7 L927.4,344.9 L927.8,343.1 L928.2,340.9 L928.6,339.1 L929.0,338.3 L929.4,339.7 L929.8,343.1 L930.2,347.6 L930.6,352.3 L931.0,356.0 L931.4,359.2 L931.8,362.6 L932.2,365.6 L932.6,367.9 L933.0,368.7 L933.4,367.5 L933.8,364.4 L934.2,360.3 L934.6,356.3 L935.0,353.2 L935.4,352.0 L935.8,353.7 L936.2,358.3 L936.6,364.8 L937.0,372.2 L937.4,379.5 L937.8,386.0 L938.2,390.6 L938.6,392.3 L939.0,391.1 L939.4,388.1 L939.8,384.0 L940.2,379.6 L940.6,375.5 L941.0,372.5 L941.4,371.3 L941.8,372.3 L942.2,375.1 L942.6,379.0 L943.0,383.5 L943.4,388.0 L943.8,391.9 L944.2,394.7 L944.6,395.7 L945.0,394.5 L945.4,391.4 L945.8,387.2 L946.2,382.5 L946.6,378.3 L947.0,375.2 L947.4,374.0 L947.8,374.9 L948.2,377.5 L948.6,381.2 L949.0,385.7 L949.4,390.7 L949.8,395.6 L950.2,400.1 L950.6,403.8 L951.0,406.4 L951.4,407.3 L951.8,405.6 L952.2,401.6 L952.6,396.5 L953.0,391.8 L953.4,388.7 L953.8,388.4 L954.2,389.5 L954.6,391.1 L955.0,392.9 L955.4,394.5 L955.8,395.6 L956.2,395.7 L956.6,395.5 L957.0,395.3 L957.4,394.9 L957.8,394.3 L958.2,392.8 L958.6,386.4 L959.0,377.6 L959.4,370.0 L959.8,364.2 L960.2,358.7 L960.6,353.8 L961.0,350.0 L961.4,347.2 L961.8,344.9 L962.2,342.9 L962.6,341.1 L963.0,339.3 L963.4,337.4 L963.8,335.2 L964.2,332.7 L964.6,329.7 L965.0,326.5 L965.4,323.1 L965.8,319.7 L966.2,316.2 L966.6,311.9 L967.0,307.5 L967.4,303.6 L967.8,300.8 L968.2,299.5 L968.6,298.9 L969.0,298.5 L969.4,298.1 L969.8,297.5 L970.2,295.7 L970.6,289.8 L971.0,281.1 L971.4,272.0 L971.8,264.4 L972.2,260.1 L972.6,256.5 L973.0,253.3 L973.4,250.9 L973.8,249.5 L974.2,250.1 L974.6,255.7 L975.0,264.0 L975.4,272.3 L975.8,277.9 L976.2,277.7 L976.6,271.2 L977.0,261.0 L977.4,250.3 L977.8,242.1 L978.2,238.7 L978.6,236.4 L979.0,234.4 L979.4,232.7 L979.8,231.6 L980.2,231.0 L980.6,231.2 L981.0,233.4 L981.4,236.8 L981.8,240.2 L982.2,242.4 L982.6,242.5 L983.0,241.3 L983.4,239.2 L983.8,236.7 L984.2,234.2 L984.6,232.0 L985.0,229.8 L985.4,227.5 L985.8,225.4 L986.2,224.1 L986.6,224.6 L987.0,229.7 L987.4,238.0 L987.8,247.4 L988.2,257.4 L988.6,270.6 L989.0,280.0 L989.4,284.3 L989.8,287.8 L990.2,290.1 L990.6,291.0 L991.0,289.5 L991.4,286.1 L991.8,282.3 L992.2,279.7 L992.6,279.9 L993.0,283.9 L993.4,290.2 L993.8,297.0 L994.2,302.9 L994.6,309.6 L995.0,316.6 L995.4,323.1 L995.8,328.2 L996.2,331.3 L996.6,332.7 L997.0,333.5 L997.4,334.8 L997.8,337.7 L998.2,347.8 L998.6,352.1 L999.0,355.7 L999.4,358.5 L999.8,360.8 L1000.2,362.6 L1000.6,363.8 L1001.0,364.7 L1001.4,365.3 L1001.8,365.6 L1002.2,365.7 L1002.6,365.3 L1003.0,362.7 L1003.4,358.8 L1003.8,355.0 L1004.2,352.4 L1004.6,352.3 L1005.0,354.4 L1005.4,358.2 L1005.8,362.8 L1006.2,367.7 L1006.6,372.3 L1007.0,376.0 L1007.4,379.2 L1007.8,382.6 L1008.2,385.7 L1008.6,387.9 L1009.0,388.7 L1009.4,387.2 L1009.8,383.5 L1010.2,379.2 L1010.6,375.5 L1011.0,374.0 L1011.4,375.8 L1011.8,380.5 L1012.2,386.9 L1012.6,393.8 L1013.0,400.0 L1013.4,406.5 L1013.8,414.0 L1014.2,421.2 L1014.6,426.6 L1015.0,428.7 L1015.4,425.6 L1015.8,418.0 L1016.2,408.0 L1016.6,398.0 L1017.0,390.4 L1017.4,387.3 L1017.8,388.5 L1018.2,391.9 L1018.6,396.7 L1019.0,402.5 L1019.4,408.5 L1019.8,414.3 L1020.2,419.1 L1020.6,422.5 L1021.0,423.7 L1021.4,421.0 L1021.8,414.3 L1022.2,405.5 L1022.6,396.7 L1023.0,390.0 L1023.4,387.3 L1023.8,388.7 L1024.2,392.4 L1024.6,397.8 L1025.0,404.1 L1025.4,410.9 L1025.8,417.2 L1026.2,422.6 L1026.6,426.3 L1027.0,427.7 L1027.4,423.2 L1027.8,412.4 L1028.2,399.3 L1028.6,387.8 L1029.0,382.0 L1029.4,380.4 L1029.8,379.1 L1030.2,378.0 L1030.6,377.2 L1031.0,376.6 L1031.4,376.3 L1031.8,376.7 L1032.2,379.5 L1032.6,383.7 L1033.0,388.1 L1033.4,391.3 L1033.8,392.3 L1034.2,392.7 L1034.6,392.9 L1035.0,393.2 L1035.4,393.7 L1035.8,395.4 L1036.2,402.3 L1036.6,410.8 L1037.0,416.0 L1037.4,417.9 L1037.8,419.5 L1038.2,420.9 L1038.6,421.9 L1039.0,422.5 L1039.4,422.7 L1039.8,420.4 L1040.2,415.3 L1040.6,410.3 L1041.0,408.0 L1041.4,408.1 L1041.8,408.5 L1042.2,409.2 L1042.6,410.0 L1043.0,411.0 L1043.4,412.1 L1043.8,413.4 L1044.2,414.9 L1044.6,418.0 L1045.0,421.9 L1045.4,425.5 L1045.8,427.8 L1046.2,428.1 L1046.6,428.1 L1047.0,428.0 L1047.4,427.9 L1047.8,427.7 L1048.2,427.5 L1048.6,427.3 L1049.0,427.0 L1049.4,425.3 L1049.8,422.2 L1050.2,419.7 L1050.6,419.6 L1051.0,421.3 L1051.4,423.6 L1051.8,425.3 L1052.2,424.8 L1052.6,420.0 L1053.0,414.0 L1053.4,407.8 L1053.8,400.4 L1054.2,392.8 L1054.6,385.7 L1055.0,380.0 L1055.4,375.0 L1055.8,370.4 L1056.2,367.4 L1056.6,367.0 L1057.0,367.2 L1057.4,367.5 L1057.8,368.7 L1058.2,373.2 L1058.6,376.0 L1059.0,373.4 L1059.4,367.8 L1059.8,362.0 L1060.2,358.5 L1060.6,355.4 L1061.0,352.6 L1061.4,350.4 L1061.8,349.2 L1062.2,349.4 L1062.6,352.1 L1063.0,356.4 L1063.4,361.3 L1063.8,365.6 L1064.2,368.3 L1064.6,368.4 L1065.0,365.9 L1065.4,361.9 L1065.8,357.2 L1066.2,352.7 L1066.6,349.3 L1067.0,348.0 L1067.4,348.6 L1067.8,350.4 L1068.2,352.9 L1068.6,355.9 L1069.0,359.1 L1069.4,362.2 L1069.8,364.9 L1070.2,367.1 L1070.6,369.4 L1071.0,371.8 L1071.4,373.9 L1071.8,375.6 L1072.2,376.6 L1072.6,376.3 L1073.0,373.4 L1073.4,369.0 L1073.8,364.4 L1074.2,360.9 L1074.6,359.5 L1075.0,358.9 L1075.4,358.5 L1075.8,358.1 L1076.2,357.6 L1076.6,356.7 L1077.0,353.2 L1077.4,346.0 L1077.8,336.9 L1078.2,327.7 L1078.6,320.0 L1079.0,313.2 L1079.4,305.9 L1079.8,299.0 L1080.2,293.5 L1080.6,290.3 L1081.0,290.2 L1081.4,292.5 L1081.8,296.7 L1082.2,302.3 L1082.6,308.8 L1083.0,316.0 L1083.4,323.2 L1083.8,330.0 L1084.2,338.3 L1084.6,348.7 L1085.0,359.4 L1085.4,368.5 L1085.8,373.9 L1086.2,374.7 L1086.6,374.3 L1087.0,373.7 L1087.4,372.8 L1087.8,371.7 L1088.2,369.5 L1088.6,363.1 L1089.0,354.0 L1089.4,345.0 L1089.8,336.5 L1090.2,327.4 L1090.6,318.0 L1091.0,308.5 L1091.4,298.6 L1091.8,288.0 L1092.2,276.2 L1092.6,263.4 L1093.0,250.0 L1093.4,232.9 L1093.8,217.3 L1094.2,213.1 L1094.6,211.5 L1095.0,210.3 L1095.4,209.4 L1095.8,208.8 L1096.2,208.4 L1096.6,208.3 L1097.0,210.0 L1097.4,214.2 L1097.8,219.7 L1098.2,225.2 L1098.6,229.4 L1099.0,231.1 L1099.4,230.6 L1099.8,229.2 L1100.2,227.3 L1100.6,224.8 L1101.0,222.2 L1101.4,219.6 L1101.8,217.1 L1102.2,215.2 L1102.6,213.8 L1103.0,213.3 L1103.4,214.3 L1103.8,216.9 L1104.2,220.7 L1104.6,225.2 L1105.0,230.0 L1105.4,236.2 L1105.8,244.6 L1106.2,254.0 L1106.6,263.5 L1107.0,272.0 L1107.4,280.6 L1107.8,289.7 L1108.2,297.0 L1108.6,300.0 L1109.0,300.1 L1109.4,300.1 L1109.8,300.2 L1110.2,300.3 L1110.6,304.0 L1111.0,311.0 L1111.4,316.5 L1111.8,321.6 L1112.2,326.7 L1112.6,331.8 L1113.0,336.4 L1113.4,340.5 L1113.8,343.9 L1114.2,346.3 L1114.6,347.5 L1115.0,348.3 L1115.4,348.8 L1115.8,349.5 L1116.2,350.6 L1116.6,352.0 L1117.0,353.8 L1117.4,356.0 L1117.8,358.6 L1118.2,361.8 L1118.6,367.2 L1119.0,373.9 L1119.4,381.0 L1119.8,387.4 L1120.2,392.5 L1120.6,397.6 L1121.0,400.0 L1121.4,398.5 L1121.8,395.3 L1122.2,392.7 L1122.6,392.6 L1123.0,394.3 L1123.4,396.9 L1123.8,399.2 L1124.2,400.6 L1124.6,401.7 L1125.0,402.8 L1125.4,403.7 L1125.8,404.4 L1126.2,404.9 L1126.6,405.1 L1127.0,403.1 L1127.4,398.4 L1127.8,392.7 L1128.2,387.3 L1128.6,381.2 L1129.0,374.6 L1129.4,368.1 L1129.8,362.4 L1130.2,357.9 L1130.6,354.2 L1131.0,350.9 L1131.4,347.9 L1131.8,344.8 L1132.2,341.6 L1132.6,338.0 L1133.0,333.7 L1133.4,328.7 L1133.8,323.6 L1134.2,318.8 L1134.6,314.7 L1135.0,311.6 L1135.4,309.1 L1135.8,306.9 L1136.2,305.2 L1136.6,303.8 L1137.0,302.6 L1137.4,301.3 L1137.8,299.6 L1138.2,297.1 L1138.6,293.7 L1139.0,289.9 L1139.4,285.9 L1139.8,282.0 L1140.2,277.7 L1140.6,273.2 L1141.0,268.6 L1141.4,264.1 L1141.8,259.9 L1142.2,256.0 L1142.6,251.7 L1143.0,247.7 L1143.4,245.3 L1143.8,245.5 L1144.2,249.7 L1144.6,256.8 L1145.0,265.6 L1145.4,274.7 L1145.8,282.7 L1146.2,288.9 L1146.6,294.4 L1147.0,299.6 L1147.4,304.6 L1147.8,309.3 L1148.2,313.7 L1148.6,317.6 L1149.0,321.7 L1149.4,326.7 L1149.8,332.9 L1150.2,339.8 L1150.6,347.0 L1151.0,353.9 L1151.4,360.0 L1151.8,366.3 L1152.2,372.1 L1152.6,374.7 L1153.0,373.6 L1153.4,370.8 L1153.8,366.8 L1154.2,362.3 L1154.6,357.5 L1155.0,351.0 L1155.4,343.6 L1155.8,336.3 L1156.2,330.0 L1156.6,324.0 L1157.0,318.3 L1157.4,312.8 L1157.8,307.6 L1158.2,302.6 L1158.6,298.1 L1159.0,293.8 L1159.4,289.5 L1159.8,284.7 L1160.2,278.8 L1160.6,270.6 L1161.0,261.0 L1161.4,251.7 L1161.8,244.1 L1162.2,239.5 L1162.6,239.7 L1163.0,245.6 L1163.4,255.0 L1163.8,265.5 L1164.2,274.7 L1164.6,280.9 L1165.0,286.8 L1165.4,291.6 L1165.8,293.5 L1166.2,291.2 L1166.6,285.7 L1167.0,279.1 L1167.4,272.4 L1167.8,263.5 L1168.2,256.4 L1168.6,256.5 L1169.0,264.4 L1169.4,275.6 L1169.8,285.3 L1170.2,289.7 L1170.6,292.9 L1171.0,295.8 L1171.4,298.0 L1171.8,299.7 L1172.2,300.6 L1172.6,300.5 L1173.0,299.3 L1173.4,297.5 L1173.8,295.7 L1174.2,294.5 L1174.6,294.7 L1175.0,297.7 L1175.4,302.2 L1175.8,306.6 L1176.2,309.6 L1176.6,309.2 L1177.0,303.8 L1177.4,295.6 L1177.8,287.3 L1178.2,281.1 L1178.6,275.5 L1179.0,270.1 L1179.4,265.0 L1179.8,260.2 L1180.2,255.6 L1180.6,250.7 L1181.0,248.3 L1181.4,249.0 L1181.8,250.9 L1182.2,253.5 L1182.6,256.4 L1183.0,259.3 L1183.4,261.6 L1183.8,262.9 L1184.2,262.6 L1184.6,259.3 L1185.0,253.9 L1185.4,247.6 L1185.8,241.6 L1186.2,237.1 L1186.6,235.3 L1187.0,237.1 L1187.4,241.7 L1187.8,248.0 L1188.2,254.9 L1188.6,261.3 L1189.0,266.0 L1189.4,269.7 L1189.8,273.3 L1190.2,275.9 L1190.6,277.0 L1191.0,276.3 L1191.4,274.4 L1191.8,271.9 L1192.2,269.5 L1192.6,267.6 L1193.0,266.9 L1193.4,270.4 L1193.8,278.3 L1194.2,286.7 L1194.6,292.6 L1195.0,297.3 L1195.4,301.6 L1195.8,305.8 L1196.2,310.4 L1196.6,316.0 L1197.0,321.8 L1197.4,326.7 L1197.8,329.6 L1198.2,329.9 L1198.6,329.5 L1199.0,328.8 L1199.4,327.9 L1199.8,326.7 L1200.2,325.6 L1200.6,324.4 L1201.0,322.7 L1201.4,320.5 L1201.8,318.2 L1202.2,316.1 L1202.6,314.6 L1203.0,314.0 L1203.4,314.8 L1203.8,316.8 L1204.2,319.2 L1204.6,321.2 L1205.0,322.0 L1205.4,321.8 L1205.8,321.3 L1206.2,320.4 L1206.6,319.3 L1207.0,318.0 L1207.4,316.6 L1207.8,315.0 L1208.2,312.5 L1208.6,308.7 L1209.0,304.2 L1209.4,299.3 L1209.8,294.8 L1210.2,291.0 L1210.6,288.0 L1211.0,285.3 L1211.4,282.7 L1211.8,280.2 L1212.2,277.6 L1212.6,274.5 L1213.0,271.5 L1213.4,269.2 L1213.8,268.3 L1214.2,271.9 L1214.6,279.3 L1215.0,285.0 L1215.4,287.9 L1215.8,290.2 L1216.2,292.2 L1216.6,293.8 L1217.0,295.3 L1217.4,296.5 L1217.8,297.5 L1218.2,298.4 L1218.6,299.3 L1219.0,300.3 L1219.4,301.5 L1219.8,303.0 L1220.2,305.2 L1220.6,308.2 L1221.0,311.5 L1221.4,314.6 L1221.8,317.4 L1222.2,320.4 L1222.6,323.4 L1223.0,326.2 L1223.4,328.5 L1223.8,329.7 L1224.2,329.4 L1224.6,325.9 L1225.0,320.9 L1225.4,316.4 L1225.8,314.5 L1226.2,315.6 L1226.6,318.6 L1227.0,323.0 L1227.4,328.2 L1227.8,333.6 L1228.2,338.8 L1228.6,343.2 L1229.0,346.2 L1229.4,347.3 L1229.8,345.4 L1230.2,340.5 L1230.6,334.2 L1231.0,327.9 L1231.4,323.0 L1231.8,321.1 L1232.2,322.2 L1232.6,325.1 L1233.0,329.2 L1233.4,333.9 L1233.8,338.6 L1234.2,342.7 L1234.6,345.6 L1235.0,346.7 L1235.4,344.3 L1235.8,338.3 L1236.2,330.5 L1236.6,322.7 L1237.0,316.7 L1237.4,314.3 L1237.8,315.3 L1238.2,318.1 L1238.6,322.0 L1239.0,326.6 L1239.4,331.3 L1239.8,335.7 L1240.2,339.1 L1240.6,341.0 L1241.0,340.9 L1241.4,337.9 L1241.8,333.3 L1242.2,328.2 L1242.6,324.0 L1243.0,320.1 L1243.4,316.3 L1243.8,313.7 L1244.2,313.5 L1244.6,314.7 L1245.0,316.8 L1245.4,319.3 L1245.8,322.0 L1246.2,324.3 L1246.6,326.0 L1247.0,326.7 L1247.4,324.6 L1247.8,319.0 L1248.2,311.0 L1248.6,301.6 L1249.0,292.0 L1249.4,283.2 L1249.8,276.2 L1250.2,272.2 L1250.6,272.5 L1251.0,278.3 L1251.4,287.9 L1251.8,299.0 L1252.2,309.6 L1252.6,317.6 L1253.0,320.7 L1253.4,318.5 L1253.8,312.9 L1254.2,305.0 L1254.6,296.2 L1255.0,287.7 L1255.4,280.7 L1255.8,276.7 L1256.2,276.7 L1256.6,280.7 L1257.0,287.7 L1257.4,296.2 L1257.8,305.0 L1258.2,312.9 L1258.6,318.5 L1259.0,320.7 L1259.4,318.7 L1259.8,313.4 L1260.2,305.8 L1260.6,297.2 L1261.0,288.6 L1261.4,281.0 L1261.8,275.7 L1262.2,273.7 L1262.6,276.0 L1263.0,281.9 L1263.4,290.2 L1263.8,299.5 L1264.2,308.5 L1264.6,315.8 L1265.0,320.1 L1265.4,320.0 L1265.8,314.9 L1266.2,306.3 L1266.6,295.8 L1267.0,284.8 L1267.4,275.0 L1267.8,268.0 L1268.2,265.3 L1268.6,268.0 L1269.0,275.0 L1269.4,284.8 L1269.8,295.8 L1270.2,306.3 L1270.6,314.9 L1271.0,320.0 L1271.4,320.0 L1271.8,315.1 L1272.2,306.8 L1272.6,296.9 L1273.0,287.0 L1273.4,278.7 L1273.8,273.8 L1274.2,273.6 L1274.6,277.3 L1275.0,283.7 L1275.4,291.8 L1275.8,300.6 L1276.2,309.2 L1276.6,316.6 L1277.0,321.8 L1277.4,323.7 L1277.8,321.8 L1278.2,316.9 L1278.6,310.2 L1279.0,302.8 L1279.4,296.1 L1279.8,291.2 L1280.2,289.3 L1280.6,290.6 L1281.0,294.2 L1281.4,299.2 L1281.8,305.0 L1282.2,310.8 L1282.6,315.8 L1283.0,319.4 L1283.4,320.7 L1283.8,318.0 L1284.2,311.1 L1284.6,301.7 L1285.0,291.5 L1285.4,282.1 L1285.8,275.2 L1286.2,272.5 L1286.6,273.8 L1287.0,277.3 L1287.4,282.2 L1287.8,287.7 L1288.2,293.0 L1288.6,297.3 L1289.0,300.0 L1289.4,301.3 L1289.8,302.1 L1290.2,302.9 L1290.6,303.7 L1291.0,305.0 L1291.4,307.1 L1291.8,310.0 L1292.2,313.6 L1292.6,318.2 L1293.0,325.4 L1293.4,331.9 L1293.8,334.4 L1294.2,335.5 L1294.6,336.2 L1295.0,337.0 L1295.4,338.4 L1295.8,342.3 L1296.2,347.9 L1296.6,352.7 L1297.0,357.6 L1297.4,361.2 L1297.8,361.5 L1298.2,360.2 L1298.6,357.7 L1299.0,354.4 L1299.4,350.5 L1299.8,346.3 L1300.2,342.0 L1300.6,336.7 L1301.0,329.8 L1301.4,322.3 L1301.8,315.1 L1302.2,309.3 L1302.6,304.7 L1303.0,299.4 L1303.4,290.8 L1303.8,275.0 L1304.2,257.7 L1304.6,246.0 L1305.0,239.6 L1305.4,233.9 L1305.8,229.4 L1306.2,226.4 L1306.6,225.3 L1307.0,227.1 L1307.4,231.7 L1307.8,238.4 L1308.2,246.0 L1308.6,255.2 L1309.0,269.9 L1309.4,283.8 L1309.8,290.7 L1310.2,295.7 L1310.6,299.8 L1311.0,302.8 L1311.4,304.5 L1311.8,304.4 L1312.2,302.1 L1312.6,298.8 L1313.0,295.8 L1313.4,294.5 L1313.8,307.4 L1314.2,329.5 L1314.6,339.0 L1315.0,342.9 L1315.4,347.0 L1315.8,352.7 L1316.2,359.2 L1316.6,366.0 L1317.0,374.6 L1317.4,382.4 L1317.8,383.0 L1318.2,378.2 L1318.6,371.2 L1319.0,365.0 L1319.4,362.3 L1319.8,364.6 L1320.2,370.2 L1320.6,376.8 L1321.0,382.4 L1321.4,384.7 L1321.8,382.3 L1322.2,376.2 L1322.6,368.2 L1323.0,360.0 L1323.4,351.6 L1323.8,341.6 L1324.2,330.0 L1324.6,312.2 L1325.0,289.3 L1325.4,269.5 L1325.8,261.1 L1326.2,265.4 L1326.6,276.7 L1327.0,292.6 L1327.4,310.9 L1327.8,329.2 L1328.2,345.1 L1328.6,356.4 L1329.0,360.7 L1329.4,358.1 L1329.8,351.2 L1330.2,341.6 L1330.6,330.8 L1331.0,320.4 L1331.4,312.0 L1331.8,307.0 L1332.2,307.0 L1332.6,311.7 L1333.0,319.9 L1333.4,329.9 L1333.8,340.3 L1334.2,349.5 L1334.6,356.2 L1335.0,358.7 L1335.4,354.8 L1335.8,344.4 L1336.2,329.6 L1336.6,312.3 L1337.0,294.5 L1337.4,278.1 L1337.8,265.3 L1338.2,257.9 L1338.6,258.1 L1339.0,266.3 L1339.4,279.4 L1339.8,293.6 L1340.2,306.8 L1340.6,323.7 L1341.0,341.3 L1341.4,355.1 L1341.8,360.7 L1342.2,358.5 L1342.6,353.0 L1343.0,346.1 L1343.4,339.7 L1343.8,335.6 L1344.2,336.2 L1344.6,344.4 L1345.0,356.9 L1345.4,369.3 L1345.8,377.5 L1346.2,378.1 L1346.6,374.0 L1347.0,367.3 L1347.4,359.7 L1347.8,352.7 L1348.2,347.5 L1348.6,342.2 L1349.0,337.1 L1349.4,332.8 L1349.8,330.3 L1350.2,330.3 L1350.6,332.7 L1351.0,336.8 L1351.4,342.3 L1351.8,348.6 L1352.2,355.1 L1352.6,361.4 L1353.0,366.9 L1353.4,371.0 L1353.8,373.4 L1354.2,372.9 L1354.6,367.5 L1355.0,359.3 L1355.4,351.2 L1355.8,345.8 L1356.2,345.1 L1356.6,346.1 L1357.0,347.5 L1357.4,348.9 L1357.8,349.9 L1358.2,349.6 L1358.6,347.0 L1359.0,342.6 L1359.4,337.3 L1359.8,332.2 L1360.2,327.8 L1360.6,322.5 L1361.0,317.0 L1361.4,312.3 L1361.8,309.5 L1362.2,309.5 L1362.6,312.5 L1363.0,317.6 L1363.4,324.2 L1363.8,331.4 L1364.2,339.2 L1364.6,350.0 L1365.0,360.0 L1365.4,368.7 L1365.8,375.6 L1366.2,377.4 L1366.6,377.9 L1367.0,378.2 L1367.4,378.5 L1367.8,378.8 L1368.2,379.3 L1368.6,379.9 L1369.0,380.6 L1369.4,381.0 L1369.8,380.8 L1370.2,378.8 L1370.6,376.0 L1371.0,373.4 L1371.4,372.3 L1371.8,373.4 L1372.2,376.0 L1372.6,378.6 L1373.0,380.0 L1373.4,380.3 L1373.8,380.6 L1374.2,380.8 L1374.6,381.0 L1375.0,381.1 L1375.4,381.1 L1375.8,379.1 L1376.2,374.7 L1376.6,370.3 L1377.0,368.3 L1377.4,369.1 L1377.8,370.7 L1378.2,372.4 L1378.6,373.1 L1379.0,372.8 L1379.4,372.1 L1379.8,371.0 L1380.2,369.6 L1380.6,367.9 L1381.0,366.0 L1381.4,363.0 L1381.8,358.3 L1382.2,352.8 L1382.6,346.6 L1383.0,338.9 L1383.4,333.7 L1383.8,330.9 L1384.2,332.5 L1384.6,335.0 L1385.0,335.3 L1385.4,334.1 L1385.8,332.0 L1386.2,329.2 L1386.6,326.0 L1387.0,321.4 L1387.4,315.0 L1387.8,308.0 L1388.2,299.8 L1388.6,291.3 L1389.0,285.1 L1389.4,279.7 L1389.8,277.3 L1390.2,278.2 L1390.6,280.3 L1391.0,282.4 L1391.4,283.3 L1391.8,282.2 L1392.2,279.2 L1392.6,275.0 L1393.0,270.3 L1393.4,265.4 L1393.8,258.7 L1394.2,251.2 L1394.6,244.0 L1395.0,236.1 L1395.4,229.4 L1395.8,228.6 L1396.2,230.6 L1396.6,234.1 L1397.0,238.5 L1397.4,243.0 L1397.8,247.2 L1398.2,250.8 L1398.6,254.8 L1399.0,258.2 L1399.4,259.7 L1399.8,258.3 L1400.2,255.1 L1400.6,251.3 L1401.0,248.1 L1401.4,246.7 L1401.8,249.9 L1402.2,257.5 L1402.6,266.8 L1403.0,275.0 L1403.4,282.8 L1403.8,291.2 L1404.2,297.9 L1404.6,300.7 L1405.0,295.7 L1405.4,285.0 L1405.8,275.0 L1406.2,267.9 L1406.6,261.3 L1407.0,255.0 L1407.4,248.4 L1407.8,241.4 L1408.2,234.0 L1408.6,226.3 L1409.0,218.5 L1409.4,210.9 L1409.8,203.5 L1410.2,196.5 L1410.6,189.4 L1411.0,182.5 L1411.4,176.0 L1411.8,170.4 L1412.2,165.7 L1412.6,161.1 L1413.0,157.4 L1413.4,155.9 L1413.8,157.5 L1414.2,161.6 L1414.6,167.1 L1415.0,173.3 L1415.4,181.9 L1415.8,193.3 L1416.2,210.5 L1416.6,232.0 L1417.0,239.0 L1417.4,239.3 L1417.8,234.3 L1418.2,227.7 L1418.6,222.4 L1419.0,216.7 L1419.4,212.5 L1419.8,212.2 L1420.2,214.0 L1420.6,217.1 L1421.0,220.6 L1421.4,223.7 L1421.8,226.2 L1422.2,228.7 L1422.6,231.0 L1423.0,232.8 L1423.4,233.5 L1423.8,230.6 L1424.2,224.2 L1424.6,217.3 L1425.0,213.0 L1425.4,211.3 L1425.8,210.5 L1426.2,211.8 L1426.6,213.0 L1427.0,208.4 L1427.4,200.0 L1427.8,191.0 L1428.2,180.5 L1428.6,170.0 L1429.0,160.4 L1429.4,150.8 L1429.8,140.0 L1430.2,123.5 L1430.6,106.2 L1431.0,99.6 L1431.4,98.4 L1431.8,97.7" stroke="#000" stroke-width="2.9"/>
<path d="M150.6,363.0 L151.0,374.5 L151.4,386.1 L151.9,382.2 L152.4,371.6 L152.9,357.2 L153.4,342.8 L153.9,332.2 L154.4,328.3 L154.9,330.2 L155.4,335.6 L155.9,343.4 L156.5,352.0 L157.0,359.8 L157.5,365.2 L158.0,367.1 L158.5,364.0 L159.0,356.0 L159.6,346.0 L160.1,338.0 L160.6,334.9 L161.2,337.6 L161.7,344.9 L162.3,355.0 L162.9,365.0 L163.4,372.4 L164.0,375.1 L164.5,371.3 L165.0,361.5 L165.6,349.3 L166.1,339.5 L166.6,335.7 L167.1,337.3 L167.7,341.6 L168.2,347.9 L168.8,354.9 L169.3,361.2 L169.9,365.5 L170.4,367.1 L170.9,365.0 L171.4,358.9 L171.9,350.2 L172.5,340.6 L173.0,331.9 L173.5,325.8 L174.0,323.7 L174.5,324.2 L175.0,325.5 L175.5,327.4 L176.0,329.2 L176.5,330.6 L177.0,331.1 L177.5,330.4 L178.0,328.3 L178.5,325.1 L179.0,321.4 L179.5,317.7 L180.0,314.5 L180.5,312.4 L181.0,311.7 L181.5,313.3 L182.0,317.6 L182.6,322.8 L183.1,327.1 L183.6,328.7 L184.1,327.5 L184.6,324.0 L185.1,319.0 L185.7,313.4 L186.2,308.4 L186.7,304.9 L187.2,303.7 L187.7,306.6 L188.2,314.7 L188.7,325.7 L189.2,336.7 L189.7,344.8 L190.2,347.7 L190.7,345.2 L191.3,338.5 L191.8,329.3 L192.3,320.1 L192.9,313.4 L193.4,310.9 L193.9,314.1 L194.5,322.9 L195.0,335.0 L195.5,347.0 L196.1,355.9 L196.6,359.1 L197.1,356.2 L197.6,348.2 L198.1,337.4 L198.6,326.6 L199.1,318.6 L199.6,315.7 L200.2,319.2 L200.7,328.8 L201.3,341.9 L201.9,355.0 L202.4,364.6 L203.0,368.1 L203.6,363.6 L204.1,351.8 L204.7,337.2 L205.2,325.4 L205.8,320.9 L206.3,323.9 L206.8,332.4 L207.3,344.7 L207.9,358.3 L208.4,370.6 L208.9,379.1 L209.4,382.1 L209.9,376.8 L210.4,362.8 L211.0,345.6 L211.5,331.6 L212.0,326.3 L212.5,329.3 L213.0,337.7 L213.5,349.9 L214.1,363.5 L214.6,375.7 L215.1,384.1 L215.6,387.1 L216.1,381.4 L216.6,366.6 L217.2,348.4 L217.7,333.6 L218.2,327.9 L218.7,330.7 L219.2,338.5 L219.7,349.7 L220.3,362.3 L220.8,373.5 L221.3,381.3 L221.8,384.1 L222.4,376.3 L223.0,357.3 L223.6,338.3 L224.2,330.5 L224.7,333.9 L225.3,343.4 L225.8,357.2 L226.4,372.4 L226.9,386.2 L227.5,395.7 L228.0,399.1 L228.6,391.7 L229.2,374.0 L229.8,356.3 L230.4,348.9 L230.9,350.7 L231.4,355.7 L231.9,363.0 L232.5,371.0 L233.0,378.3 L233.5,383.3 L234.0,385.1 L234.6,378.5 L235.2,362.7 L235.8,346.9 L236.4,340.3 L236.9,342.6 L237.4,349.1 L237.9,358.5 L238.5,368.9 L239.0,378.3 L239.5,384.8 L240.0,387.1 L240.6,382.4 L241.2,371.2 L241.8,360.0 L242.4,355.3 L242.9,355.7 L243.4,357.0 L243.9,358.7 L244.5,360.7 L245.0,362.4 L245.5,363.7 L246.0,364.1 L246.5,360.9 L247.0,352.6 L247.6,342.4 L248.1,334.1 L248.6,330.9 L249.1,332.4 L249.6,336.5 L250.1,342.7 L250.6,350.0 L251.1,357.3 L251.6,363.5 L252.1,367.6 L252.6,369.1 L253.1,368.4 L253.7,366.5 L254.2,363.6 L254.7,359.9 L255.3,356.1 L255.8,352.5 L256.3,349.5 L256.9,347.6 L257.4,346.9 L257.9,347.7 L258.4,349.7 L259.0,352.3 L259.5,354.3 L260.0,355.1 L260.6,354.1 L261.1,351.5 L261.7,347.9 L262.3,344.3 L262.8,341.7 L263.4,340.7 L263.9,342.0 L264.4,345.3 L265.0,349.5 L265.5,352.8 L266.0,354.1 L266.5,352.9 L267.0,349.4 L267.5,344.3 L268.1,338.7 L268.6,333.6 L269.1,330.1 L269.6,328.9 L270.2,331.9 L270.8,339.0 L271.4,346.1 L272.0,349.1 L272.5,348.1 L273.0,345.4 L273.5,341.4 L274.1,337.0 L274.6,333.0 L275.1,330.3 L275.6,329.3 L276.1,331.7 L276.6,338.2 L277.1,347.2 L277.6,356.1 L278.1,362.7 L278.6,365.1 L279.1,362.3 L279.7,354.5 L280.2,343.9 L280.7,333.3 L281.3,325.5 L281.8,322.7 L282.4,325.2 L282.9,331.8 L283.5,340.0 L284.0,346.6 L284.6,349.1 L285.2,347.3 L285.7,342.2 L286.3,335.4 L286.9,328.6 L287.4,323.5 L288.0,321.7 L288.5,324.5 L289.0,332.3 L289.5,342.9 L290.0,353.5 L290.5,361.3 L291.0,364.1 L291.5,359.9 L292.0,349.0 L292.6,335.4 L293.1,324.5 L293.6,320.3 L294.2,323.8 L294.7,333.2 L295.3,346.2 L295.9,359.1 L296.4,368.6 L297.0,372.1 L297.6,367.6 L298.1,355.9 L298.7,341.5 L299.2,329.8 L299.8,325.3 L300.3,328.4 L300.9,336.8 L301.4,348.2 L301.9,359.6 L302.5,368.0 L303.0,371.1 L303.5,367.7 L304.0,358.2 L304.5,345.4 L305.0,332.6 L305.5,323.1 L306.0,319.7 L306.5,323.5 L307.1,333.8 L307.6,347.9 L308.1,362.0 L308.7,372.3 L309.2,376.1 L309.8,371.7 L310.3,360.1 L310.9,345.9 L311.4,334.3 L312.0,329.9 L312.6,333.3 L313.1,342.4 L313.7,355.0 L314.3,367.5 L314.8,376.7 L315.4,380.1 L315.9,375.5 L316.4,363.4 L317.0,348.6 L317.5,336.5 L318.0,331.9 L318.5,334.2 L319.0,340.8 L319.5,350.2 L320.1,360.8 L320.6,370.2 L321.1,376.8 L321.6,379.1 L322.1,375.1 L322.6,364.5 L323.2,351.5 L323.7,340.9 L324.2,336.9 L324.8,339.3 L325.3,345.9 L325.9,355.0 L326.5,364.0 L327.0,370.7 L327.6,373.1 L328.1,370.2 L328.6,362.7 L329.2,353.3 L329.7,345.8 L330.2,342.9 L330.8,344.9 L331.3,350.2 L331.9,357.5 L332.5,364.8 L333.0,370.1 L333.6,372.1 L334.2,369.2 L334.7,361.6 L335.3,352.2 L335.8,344.6 L336.4,341.7 L336.9,342.6 L337.4,345.2 L337.9,348.9 L338.5,352.9 L339.0,356.6 L339.5,359.2 L340.0,360.1 L340.5,359.3 L341.0,357.2 L341.5,353.8 L342.0,349.7 L342.6,345.3 L343.1,341.2 L343.6,337.8 L344.1,335.7 L344.6,334.9 L345.3,346.8 L346.0,358.7 L346.5,357.8 L347.1,355.1 L347.6,351.0 L348.1,346.0 L348.7,340.6 L349.2,335.6 L349.7,331.5 L350.3,328.8 L350.8,327.9 L351.3,330.4 L351.9,337.1 L352.4,346.3 L352.9,355.5 L353.5,362.2 L354.0,364.7 L354.5,362.0 L355.0,354.4 L355.5,344.2 L356.0,333.9 L356.5,326.4 L357.0,323.7 L357.6,326.8 L358.1,335.3 L358.7,346.9 L359.3,358.5 L359.8,367.0 L360.4,370.1 L361.0,365.8 L361.5,354.5 L362.1,340.5 L362.6,329.2 L363.2,324.9 L363.8,328.3 L364.3,337.7 L364.9,350.5 L365.5,363.3 L366.0,372.7 L366.6,376.1 L367.2,370.7 L367.7,356.5 L368.3,338.9 L368.8,324.7 L369.4,319.3 L369.9,323.4 L370.5,334.5 L371.0,349.7 L371.5,364.9 L372.1,376.0 L372.6,380.1 L373.1,376.1 L373.6,365.1 L374.1,350.2 L374.6,335.2 L375.1,324.3 L375.6,320.3 L376.2,324.2 L376.7,334.8 L377.3,349.2 L377.9,363.6 L378.4,374.2 L379.0,378.1 L379.5,371.9 L380.0,355.7 L380.6,335.7 L381.1,319.5 L381.6,313.3 L382.1,316.1 L382.6,324.0 L383.1,335.4 L383.7,348.0 L384.2,359.4 L384.7,367.3 L385.2,370.1 L385.7,364.3 L386.2,349.0 L386.8,330.0 L387.3,314.7 L387.8,308.9 L388.3,311.3 L388.8,318.2 L389.3,328.0 L389.9,339.0 L390.4,348.8 L390.9,355.7 L391.4,358.1 L391.9,353.1 L392.4,339.9 L393.0,323.5 L393.5,310.3 L394.0,305.3 L394.5,307.0 L395.0,312.0 L395.5,319.4 L396.0,328.2 L396.5,337.0 L397.0,344.4 L397.5,349.4 L398.0,351.1 L398.5,345.0 L399.0,330.2 L399.5,315.4 L400.0,309.3 L400.5,310.7 L401.0,314.8 L401.5,321.0 L402.0,328.2 L402.5,335.4 L403.0,341.6 L403.5,345.7 L404.0,347.1 L404.5,342.0 L405.0,329.7 L405.5,317.4 L406.0,312.3 L406.5,313.5 L407.0,316.9 L407.5,321.5 L408.0,326.1 L408.5,329.5 L409.0,330.7 L409.5,329.3 L410.0,325.5 L410.5,320.3 L411.0,315.1 L411.5,311.3 L412.0,309.9 L412.5,310.6 L413.0,312.7 L413.5,315.4 L414.0,318.2 L414.5,320.3 L415.0,321.0 L415.6,321.8 L416.1,324.0 L416.7,327.0 L417.3,330.0 L417.8,332.2 L418.4,333.0 L418.9,333.4 L419.4,334.6 L419.9,336.3 L420.4,338.3 L420.9,340.4 L421.4,342.1 L421.9,343.3 L422.4,343.7 L422.9,343.4 L423.4,342.4 L423.9,341.0 L424.4,339.2 L425.0,337.4 L425.5,335.6 L426.0,334.2 L426.5,333.2 L427.0,332.9 L427.5,333.4 L428.0,334.6 L428.5,336.3 L429.0,338.0 L429.5,339.2 L430.0,339.7 L430.5,337.7 L431.0,332.2 L431.5,324.7 L432.0,317.2 L432.5,311.7 L433.0,309.7 L433.6,312.7 L434.1,320.9 L434.7,332.2 L435.3,343.4 L435.8,351.7 L436.4,354.7 L436.9,352.8 L437.4,347.4 L437.9,340.2 L438.4,332.9 L438.9,327.6 L439.4,325.7 L439.9,329.2 L440.4,338.5 L441.0,349.9 L441.5,359.2 L442.0,362.7 L442.5,361.0 L443.0,356.2 L443.5,349.8 L444.0,343.4 L444.5,338.6 L445.0,336.9 L445.5,339.0 L446.0,344.9 L446.5,352.8 L447.0,360.8 L447.5,366.6 L448.0,368.7 L448.5,365.7 L449.0,357.6 L449.5,346.5 L450.0,335.4 L450.5,327.3 L451.0,324.3 L451.5,327.4 L452.0,335.9 L452.5,347.5 L453.0,359.1 L453.5,367.6 L454.0,370.7 L454.5,368.2 L455.0,361.2 L455.5,351.8 L456.0,342.4 L456.5,335.4 L457.0,332.9 L457.6,336.4 L458.1,345.9 L458.7,358.8 L459.3,371.8 L459.8,381.2 L460.4,384.7 L460.9,380.4 L461.4,369.2 L462.0,355.2 L462.5,344.0 L463.0,339.7 L463.6,342.9 L464.1,351.7 L464.7,363.7 L465.3,375.7 L465.8,384.5 L466.4,387.7 L467.0,382.2 L467.5,367.7 L468.1,349.7 L468.6,335.2 L469.2,329.7 L469.8,333.2 L470.3,342.7 L470.9,355.7 L471.5,368.7 L472.0,378.2 L472.6,381.7 L473.2,377.1 L473.7,365.0 L474.3,350.0 L474.8,337.9 L475.4,333.3 L476.0,336.2 L476.5,344.1 L477.1,355.0 L477.7,365.8 L478.2,373.8 L478.8,376.7 L479.3,371.9 L479.8,359.5 L480.4,344.1 L480.9,331.7 L481.4,326.9 L481.9,329.0 L482.4,335.1 L482.9,343.8 L483.5,353.4 L484.0,362.1 L484.5,368.2 L485.0,370.3 L485.5,366.0 L486.0,354.6 L486.6,340.6 L487.1,329.2 L487.6,324.9 L488.2,327.7 L488.7,335.4 L489.3,345.8 L489.9,356.2 L490.4,363.9 L491.0,366.7 L491.5,363.9 L492.0,356.5 L492.6,347.5 L493.1,340.1 L493.6,337.3 L494.1,338.6 L494.6,342.5 L495.1,348.2 L495.6,355.0 L496.1,361.8 L496.6,367.5 L497.1,371.4 L497.6,372.7 L498.1,369.4 L498.6,361.5 L499.1,353.6 L499.6,350.3 L500.1,351.3 L500.6,354.0 L501.1,358.1 L501.6,363.0 L502.1,367.9 L502.6,372.0 L503.1,374.7 L503.6,375.7 L504.2,374.6 L504.7,371.4 L505.2,366.6 L505.8,361.0 L506.4,355.4 L506.9,350.6 L507.4,347.4 L508.0,346.3 L508.5,350.5 L509.0,360.5 L509.5,370.5 L510.0,374.7 L510.6,373.3 L511.1,369.4 L511.6,363.6 L512.2,356.7 L512.8,349.8 L513.3,344.0 L513.9,340.1 L514.4,338.7 L514.9,346.2 L515.5,361.2 L516.0,368.7 L516.5,367.5 L517.0,364.2 L517.5,359.1 L518.0,352.8 L518.6,346.2 L519.1,339.9 L519.6,334.8 L520.1,331.5 L520.6,330.3 L521.2,336.1 L521.8,350.0 L522.4,363.9 L523.0,369.7 L523.5,367.1 L524.0,359.7 L524.5,349.1 L525.1,337.3 L525.6,326.7 L526.1,319.3 L526.6,316.7 L527.2,320.5 L527.7,330.9 L528.3,345.2 L528.9,359.4 L529.4,369.9 L530.0,373.7 L530.6,368.5 L531.1,354.9 L531.7,338.1 L532.2,324.5 L532.8,319.3 L533.4,323.3 L533.9,334.4 L534.5,349.5 L535.1,364.6 L535.6,375.7 L536.2,379.7 L536.8,373.5 L537.3,357.1 L537.9,336.9 L538.4,320.5 L539.0,314.3 L539.5,317.2 L540.0,325.3 L540.5,337.0 L541.1,350.0 L541.6,361.7 L542.1,369.8 L542.6,372.7 L543.1,367.4 L543.6,353.6 L544.2,336.4 L544.7,322.6 L545.2,317.3 L545.8,321.1 L546.3,331.6 L546.9,346.0 L547.5,360.3 L548.0,370.9 L548.6,374.7 L549.1,369.1 L549.6,354.5 L550.2,336.5 L550.7,321.9 L551.2,316.3 L551.7,319.0 L552.3,326.5 L552.8,337.4 L553.4,349.6 L553.9,360.5 L554.5,368.0 L555.0,370.7 L555.6,363.5 L556.2,346.0 L556.8,328.5 L557.4,321.3 L557.9,323.4 L558.4,329.3 L558.9,337.8 L559.5,347.2 L560.0,355.7 L560.5,361.6 L561.0,363.7 L561.6,358.1 L562.2,344.5 L562.8,330.9 L563.4,325.3 L563.9,327.1 L564.5,332.2 L565.0,339.5 L565.6,347.5 L566.1,354.8 L566.7,359.9 L567.2,361.7 L567.8,357.8 L568.4,348.5 L569.0,339.2 L569.6,335.3 L570.2,336.3 L570.7,339.1 L571.3,343.0 L571.9,346.8 L572.4,349.7 L573.0,350.7 L573.5,348.9 L574.0,343.9 L574.5,337.2 L575.0,330.4 L575.5,325.5 L576.0,323.7 L576.5,323.9 L577.0,324.6 L577.5,325.6 L578.1,326.8 L578.6,327.8 L579.1,328.5 L579.6,328.7 L580.1,328.5 L580.6,328.1 L581.1,327.5 L581.6,326.7 L582.1,325.9 L582.6,325.3 L583.1,324.9 L583.6,324.7 L584.2,326.2 L584.7,330.4 L585.3,336.2 L585.9,341.9 L586.4,346.2 L587.0,347.7 L587.5,347.0 L588.0,345.1 L588.5,342.5 L589.0,339.9 L589.5,338.0 L590.0,337.3 L590.5,338.4 L591.0,341.4 L591.5,345.5 L592.0,349.6 L592.5,352.6 L593.0,353.7 L593.5,352.1 L594.1,347.6 L594.6,341.5 L595.1,335.4 L595.7,330.9 L596.2,329.3 L596.8,331.3 L597.3,336.7 L597.9,343.3 L598.4,348.7 L599.0,350.7 L599.6,349.5 L600.1,346.1 L600.7,341.5 L601.3,336.9 L601.8,333.5 L602.4,332.3 L602.9,334.6 L603.4,340.7 L604.0,348.3 L604.5,354.4 L605.0,356.7 L605.5,355.1 L606.0,350.7 L606.5,344.3 L607.1,337.3 L607.6,330.9 L608.1,326.5 L608.6,324.9 L609.1,328.5 L609.6,338.0 L610.2,349.6 L610.7,359.1 L611.2,362.7 L611.8,360.1 L612.3,352.9 L612.9,343.0 L613.5,333.2 L614.0,325.9 L614.6,323.3 L615.2,327.3 L615.7,337.9 L616.3,351.1 L616.8,361.7 L617.4,365.7 L617.9,363.1 L618.5,355.9 L619.0,346.2 L619.5,336.4 L620.1,329.3 L620.6,326.7 L621.1,329.7 L621.6,337.9 L622.1,349.2 L622.6,360.4 L623.1,368.7 L623.6,371.7 L624.1,368.2 L624.7,358.6 L625.2,345.5 L625.7,332.4 L626.3,322.8 L626.8,319.3 L627.4,323.3 L627.9,333.6 L628.5,346.4 L629.0,356.7 L629.6,360.7 L630.1,357.7 L630.7,349.4 L631.2,338.2 L631.7,326.9 L632.3,318.7 L632.8,315.7 L633.3,319.1 L633.9,328.4 L634.4,341.2 L634.9,353.9 L635.5,363.3 L636.0,366.7 L636.6,362.5 L637.1,351.4 L637.7,337.6 L638.2,326.5 L638.8,322.3 L639.3,325.5 L639.9,334.4 L640.4,346.5 L640.9,358.6 L641.5,367.5 L642.0,370.7 L642.5,367.9 L643.0,360.1 L643.5,349.5 L644.0,338.9 L644.5,331.1 L645.0,328.3 L645.6,330.9 L646.1,338.1 L646.7,348.0 L647.3,357.8 L647.8,365.1 L648.4,367.7 L648.9,364.3 L649.4,355.3 L650.0,344.3 L650.5,335.3 L651.0,331.9 L651.5,333.7 L652.0,338.8 L652.5,346.2 L653.1,354.4 L653.6,361.8 L654.1,366.9 L654.6,368.7 L655.1,365.2 L655.6,356.1 L656.2,344.9 L656.7,335.8 L657.2,332.3 L657.7,333.9 L658.3,338.2 L658.8,344.5 L659.4,351.5 L659.9,357.8 L660.5,362.1 L661.0,363.7 L661.5,362.7 L662.1,359.8 L662.6,355.6 L663.2,350.5 L663.8,345.4 L664.3,341.2 L664.9,338.3 L665.4,337.3 L665.9,341.5 L666.4,351.5 L666.9,361.5 L667.4,365.7 L667.9,364.5 L668.5,361.2 L669.0,356.3 L669.5,350.5 L670.0,344.7 L670.5,339.8 L671.1,336.5 L671.6,335.3 L672.1,340.2 L672.6,352.0 L673.1,363.8 L673.6,368.7 L674.1,366.9 L674.6,361.6 L675.1,353.8 L675.6,344.5 L676.1,335.2 L676.6,327.4 L677.1,322.1 L677.6,320.3 L678.1,324.2 L678.6,333.5 L679.1,342.8 L679.6,346.7 L680.1,345.1 L680.6,340.6 L681.1,333.9 L681.6,326.0 L682.1,318.1 L682.6,311.4 L683.1,306.9 L683.6,305.3 L684.1,312.5 L684.6,330.0 L685.1,347.5 L685.6,354.7 L686.1,352.7 L686.7,347.2 L687.2,338.8 L687.8,329.0 L688.4,319.2 L688.9,310.8 L689.5,305.3 L690.0,303.3 L690.5,310.8 L691.0,329.0 L691.5,347.2 L692.0,354.7 L692.5,352.7 L693.0,347.2 L693.6,338.8 L694.1,329.0 L694.6,319.2 L695.2,310.8 L695.7,305.3 L696.2,303.3 L696.7,306.4 L697.3,315.2 L697.8,327.9 L698.4,342.1 L698.9,354.8 L699.5,363.6 L700.0,366.7 L700.6,359.1 L701.2,340.8 L701.8,322.5 L702.4,314.9 L702.9,317.4 L703.4,324.3 L703.9,334.3 L704.5,345.3 L705.0,355.3 L705.5,362.2 L706.0,364.7 L706.5,359.6 L707.0,346.4 L707.6,330.0 L708.1,316.8 L708.6,311.7 L709.2,315.3 L709.7,325.2 L710.3,338.7 L710.9,352.2 L711.4,362.1 L712.0,365.7 L712.6,360.8 L713.1,348.1 L713.7,332.5 L714.2,319.8 L714.8,314.9 L715.3,317.2 L715.8,323.7 L716.3,333.1 L716.9,343.5 L717.4,352.9 L717.9,359.4 L718.4,361.7 L719.0,355.2 L719.6,339.5 L720.2,323.8 L720.8,317.3 L721.3,318.9 L721.9,323.2 L722.4,329.5 L723.0,336.5 L723.5,342.8 L724.1,347.1 L724.6,348.7 L725.2,343.4 L725.8,330.5 L726.4,317.6 L727.0,312.3 L727.5,313.8 L728.0,317.9 L728.5,323.5 L729.0,329.1 L729.5,333.2 L730.0,334.7 L730.5,333.4 L731.1,329.8 L731.6,324.8 L732.1,319.9 L732.7,316.2 L733.2,314.9 L733.7,315.8 L734.2,318.4 L734.7,321.8 L735.2,325.2 L735.7,327.8 L736.2,328.7 L736.7,328.1 L737.2,326.3 L737.7,323.5 L738.2,320.0 L738.7,316.1 L739.2,312.2 L739.7,308.7 L740.2,305.9 L740.7,304.1 L741.2,303.5 L741.8,307.1 L742.4,315.7 L743.0,324.3 L743.6,327.9 L744.1,327.1 L744.7,325.0 L745.2,321.8 L745.8,318.4 L746.3,315.2 L746.9,313.1 L747.4,312.3 L747.9,313.8 L748.5,318.0 L749.0,323.7 L749.5,329.4 L750.1,333.6 L750.6,335.1 L751.2,334.5 L751.7,332.8 L752.3,330.6 L752.8,328.9 L753.4,328.3 L753.9,329.8 L754.4,334.0 L754.9,339.7 L755.4,345.4 L755.9,349.6 L756.4,351.1 L756.9,349.5 L757.5,345.1 L758.0,339.2 L758.5,333.2 L759.1,328.9 L759.6,327.3 L760.1,328.7 L760.6,332.4 L761.1,337.5 L761.6,342.6 L762.1,346.3 L762.6,347.7 L763.1,345.8 L763.6,340.7 L764.1,333.7 L764.6,326.7 L765.1,321.6 L765.6,319.7 L766.2,322.2 L766.7,328.9 L767.3,338.2 L767.9,347.4 L768.4,354.2 L769.0,356.7 L769.5,354.1 L770.0,347.4 L770.6,339.0 L771.1,332.3 L771.6,329.7 L772.1,331.6 L772.6,337.0 L773.1,344.9 L773.7,353.5 L774.2,361.4 L774.7,366.8 L775.2,368.7 L775.8,364.8 L776.3,354.7 L776.9,342.3 L777.4,332.2 L778.0,328.3 L778.6,330.7 L779.1,337.2 L779.7,346.2 L780.3,355.1 L780.8,361.7 L781.4,364.1 L781.9,360.5 L782.4,351.0 L783.0,339.4 L783.5,329.9 L784.0,326.3 L784.6,329.2 L785.1,337.0 L785.7,347.7 L786.3,358.4 L786.8,366.2 L787.4,369.1 L787.9,364.4 L788.4,352.2 L789.0,337.2 L789.5,325.0 L790.0,320.3 L790.5,322.3 L791.0,328.0 L791.5,336.2 L792.1,345.2 L792.6,353.4 L793.1,359.1 L793.6,361.1 L794.1,357.5 L794.6,348.0 L795.2,336.4 L795.7,326.9 L796.2,323.3 L796.8,325.8 L797.3,332.8 L797.9,342.2 L798.5,351.6 L799.0,358.6 L799.6,361.1 L800.2,357.2 L800.7,347.1 L801.3,334.7 L801.8,324.6 L802.4,320.7 L802.9,323.1 L803.4,330.0 L803.9,339.9 L804.5,350.9 L805.0,360.8 L805.5,367.7 L806.0,370.1 L806.5,366.1 L807.0,355.7 L807.6,342.7 L808.1,332.3 L808.6,328.3 L809.2,329.8 L809.7,333.8 L810.3,339.2 L810.9,344.6 L811.4,348.6 L812.0,350.1 L812.5,348.3 L813.0,343.3 L813.5,335.8 L814.0,326.9 L814.5,318.0 L815.0,310.5 L815.5,305.5 L816.0,303.7 L816.5,306.0 L817.0,312.1 L817.6,319.5 L818.1,325.6 L818.6,327.9 L819.2,326.9 L819.7,324.2 L820.3,320.6 L820.9,316.9 L821.4,314.3 L822.0,313.3 L822.5,315.8 L823.0,322.8 L823.5,332.2 L824.0,341.6 L824.5,348.6 L825.0,351.1 L825.5,350.2 L826.0,347.8 L826.5,344.1 L827.0,339.7 L827.5,335.3 L828.0,331.6 L828.5,329.2 L829.0,328.3 L829.5,332.2 L830.0,341.5 L830.5,350.8 L831.0,354.7 L831.5,352.4 L832.0,345.8 L832.5,335.9 L833.0,324.2 L833.5,312.5 L834.0,302.6 L834.5,296.0 L835.0,293.7 L835.5,296.3 L836.1,303.4 L836.6,313.2 L837.1,322.9 L837.7,330.1 L838.2,332.7 L838.8,329.4 L839.3,320.6 L839.9,309.8 L840.4,301.0 L841.0,297.7 L841.6,300.6 L842.1,308.4 L842.7,319.2 L843.3,329.9 L843.8,337.8 L844.4,340.7 L844.9,337.9 L845.4,330.4 L845.9,320.0 L846.4,309.7 L846.9,302.1 L847.4,299.3 L848.0,303.7 L848.6,314.2 L849.2,324.7 L849.8,329.1 L850.3,326.0 L850.9,317.4 L851.4,304.9 L852.0,291.1 L852.5,278.6 L853.1,270.0 L853.6,266.9 L854.2,270.5 L854.7,280.4 L855.3,293.8 L855.9,307.2 L856.4,317.1 L857.0,320.7 L857.5,316.0 L858.0,303.6 L858.6,288.4 L859.1,276.0 L859.6,271.3 L860.1,273.8 L860.6,280.8 L861.1,291.4 L861.6,303.8 L862.1,316.2 L862.6,326.8 L863.1,333.8 L863.6,336.3 L864.2,329.1 L864.8,311.8 L865.4,294.5 L866.0,287.3 L866.6,289.8 L867.2,295.9 L867.8,302.0 L868.4,304.5 L868.9,301.2 L869.4,291.8 L869.9,278.4 L870.5,263.4 L871.0,250.0 L871.5,240.6 L872.0,237.3 L872.5,240.3 L873.1,248.5 L873.6,259.7 L874.2,270.9 L874.8,279.1 L875.3,282.1 L875.8,278.4 L876.3,268.3 L876.8,254.5 L877.4,240.7 L877.9,230.6 L878.4,226.9 L878.9,229.6 L879.4,237.1 L879.9,248.0 L880.5,260.0 L881.0,270.9 L881.5,278.4 L882.0,281.1 L882.5,277.9 L883.0,270.2 L883.5,262.5 L884.0,259.3 L884.5,260.8 L885.0,265.2 L885.5,271.9 L886.0,280.1 L886.5,288.9 L887.0,297.1 L887.5,303.8 L888.0,308.2 L888.5,309.7 L889.0,304.9 L889.5,295.2 L890.0,290.3 L890.5,291.4 L891.1,294.4 L891.6,299.1 L892.1,304.8 L892.7,311.0 L893.2,316.7 L893.7,321.4 L894.3,324.4 L894.8,325.5 L895.3,324.0 L895.9,319.6 L896.4,313.4 L897.0,306.4 L897.5,300.2 L898.1,295.8 L898.6,294.3 L899.1,298.0 L899.7,306.9 L900.2,315.8 L900.8,319.5 L901.3,318.9 L901.9,317.1 L902.4,314.6 L903.0,311.8 L903.5,309.3 L904.1,307.5 L904.6,306.9 L905.2,310.5 L905.8,319.2 L906.4,327.9 L907.0,331.5 L907.5,330.6 L908.0,328.0 L908.5,324.2 L909.0,319.7 L909.5,315.2 L910.0,311.4 L910.5,308.8 L911.0,307.9 L911.6,313.5 L912.2,324.7 L912.8,330.3 L913.3,328.7 L913.9,324.1 L914.5,317.3 L915.0,309.3 L915.5,301.3 L916.1,294.5 L916.7,289.9 L917.2,288.3 L917.7,289.9 L918.2,294.4 L918.7,300.5 L919.2,306.6 L919.7,311.1 L920.2,312.7 L920.7,311.0 L921.2,306.4 L921.7,300.2 L922.2,293.9 L922.7,289.4 L923.2,287.7 L923.7,290.1 L924.2,296.7 L924.7,305.7 L925.2,314.7 L925.7,321.3 L926.2,323.7 L926.7,322.0 L927.2,317.4 L927.7,311.0 L928.2,304.7 L928.7,300.0 L929.2,298.3 L929.7,300.9 L930.2,308.1 L930.7,318.0 L931.2,327.8 L931.7,335.1 L932.2,337.7 L932.7,336.1 L933.2,331.6 L933.7,325.5 L934.2,319.4 L934.7,314.9 L935.2,313.3 L935.8,317.5 L936.3,328.6 L936.9,342.4 L937.4,353.5 L938.0,357.7 L938.6,355.6 L939.1,349.9 L939.7,342.0 L940.3,334.2 L940.8,328.4 L941.4,326.3 L941.9,329.0 L942.4,336.4 L942.9,346.5 L943.4,356.6 L943.9,364.0 L944.4,366.7 L944.9,364.3 L945.4,357.9 L945.9,349.0 L946.4,340.2 L946.9,333.7 L947.4,331.3 L947.9,334.4 L948.5,342.8 L949.0,354.2 L949.5,365.6 L950.1,374.0 L950.6,377.1 L951.1,374.5 L951.6,367.5 L952.1,357.9 L952.6,348.3 L953.1,341.3 L953.6,338.7 L954.1,341.1 L954.6,347.7 L955.1,356.7 L955.6,365.7 L956.1,372.3 L956.6,374.7 L957.1,372.0 L957.6,364.8 L958.1,354.8 L958.6,344.9 L959.1,337.6 L959.6,334.9 L960.2,337.1 L960.7,343.1 L961.3,351.3 L961.9,359.5 L962.4,365.5 L963.0,367.7 L963.5,365.5 L964.0,359.4 L964.5,351.0 L965.0,342.7 L965.5,336.5 L966.0,334.3 L966.6,337.0 L967.1,344.6 L967.7,354.8 L968.3,365.1 L968.8,372.6 L969.4,375.3 L969.9,373.5 L970.4,368.5 L970.9,361.3 L971.5,353.3 L972.0,346.1 L972.5,341.1 L973.0,339.3 L973.5,341.0 L974.0,345.4 L974.6,351.0 L975.1,355.4 L975.6,357.1 L976.1,356.0 L976.7,353.0 L977.2,348.5 L977.8,343.2 L978.4,337.9 L978.9,333.4 L979.5,330.4 L980.0,329.3 L980.5,332.7 L981.0,340.8 L981.5,348.9 L982.0,352.3 L982.5,350.8 L983.1,346.6 L983.6,340.4 L984.2,333.0 L984.8,325.6 L985.3,319.4 L985.9,315.2 L986.4,313.7 L987.0,317.7 L987.5,327.2 L988.0,336.7 L988.6,340.7 L989.1,339.4 L989.7,335.7 L990.2,330.4 L990.8,324.6 L991.3,319.3 L991.9,315.6 L992.4,314.3 L992.9,321.4 L993.4,338.5 L993.9,355.6 L994.4,362.7 L994.9,360.3 L995.5,353.3 L996.0,342.9 L996.5,330.7 L997.0,318.5 L997.5,308.1 L998.1,301.1 L998.6,298.7 L999.1,305.4 L999.6,321.7 L1000.1,338.0 L1000.6,344.7 L1001.1,343.2 L1001.6,339.0 L1002.2,332.7 L1002.7,325.3 L1003.2,317.9 L1003.8,311.6 L1004.3,307.4 L1004.8,305.9 L1005.3,309.8 L1005.9,320.4 L1006.4,334.8 L1006.9,349.2 L1007.5,359.8 L1008.0,363.7 L1008.5,360.8 L1009.0,352.7 L1009.5,341.7 L1010.0,330.7 L1010.5,322.6 L1011.0,319.7 L1011.5,323.3 L1012.0,333.0 L1012.5,346.4 L1013.0,359.7 L1013.5,369.5 L1014.0,373.1 L1014.5,369.2 L1015.1,358.6 L1015.6,344.2 L1016.1,329.8 L1016.7,319.2 L1017.2,315.3 L1017.8,319.4 L1018.3,330.3 L1018.9,343.7 L1019.4,354.6 L1020.0,358.7 L1020.5,355.4 L1021.1,346.4 L1021.6,334.0 L1022.1,321.7 L1022.7,312.6 L1023.2,309.3 L1023.7,312.9 L1024.3,322.8 L1024.8,336.2 L1025.3,349.6 L1025.9,359.5 L1026.4,363.1 L1027.0,358.9 L1027.5,348.0 L1028.1,334.4 L1028.6,323.5 L1029.2,319.3 L1029.8,322.3 L1030.3,330.4 L1030.9,341.5 L1031.5,352.6 L1032.0,360.7 L1032.6,363.7 L1033.2,359.7 L1033.7,349.4 L1034.3,336.6 L1034.8,326.3 L1035.4,322.3 L1035.9,324.3 L1036.4,329.8 L1036.9,337.8 L1037.5,346.8 L1038.0,354.8 L1038.5,360.3 L1039.0,362.3 L1039.6,357.0 L1040.2,344.1 L1040.8,331.2 L1041.4,325.9 L1041.9,327.0 L1042.4,330.2 L1042.9,334.7 L1043.5,339.7 L1044.0,344.2 L1044.5,347.4 L1045.0,348.5 L1045.6,345.4 L1046.2,337.8 L1046.8,330.2 L1047.4,327.1 L1047.9,328.2 L1048.4,331.3 L1048.9,335.9 L1049.4,341.4 L1049.9,346.9 L1050.4,351.5 L1050.9,354.6 L1051.4,355.7 L1051.9,355.0 L1052.5,352.8 L1053.0,349.7 L1053.5,345.9 L1054.0,342.1 L1054.5,339.0 L1055.1,336.8 L1055.6,336.1 L1056.1,339.1 L1056.7,346.2 L1057.2,353.3 L1057.8,356.3 L1058.3,355.3 L1058.8,352.5 L1059.4,348.2 L1059.9,343.2 L1060.4,338.2 L1061.0,333.9 L1061.5,331.1 L1062.0,330.1 L1062.6,333.4 L1063.2,341.2 L1063.8,349.0 L1064.4,352.3 L1064.9,350.9 L1065.5,347.1 L1066.0,341.6 L1066.6,335.4 L1067.1,329.9 L1067.7,326.1 L1068.2,324.7 L1068.7,327.9 L1069.2,336.2 L1069.8,346.6 L1070.3,354.9 L1070.8,358.1 L1071.3,356.8 L1071.9,353.2 L1072.4,347.9 L1073.0,342.1 L1073.5,336.8 L1074.1,333.2 L1074.6,331.9 L1075.1,335.2 L1075.6,343.1 L1076.1,351.0 L1076.6,354.3 L1077.1,353.1 L1077.6,349.7 L1078.1,344.6 L1078.6,338.6 L1079.1,332.6 L1079.6,327.5 L1080.1,324.1 L1080.6,322.9 L1081.1,325.9 L1081.6,333.9 L1082.1,345.0 L1082.6,356.0 L1083.1,364.1 L1083.6,367.1 L1084.1,363.9 L1084.7,355.0 L1085.2,342.9 L1085.7,330.8 L1086.3,321.9 L1086.8,318.7 L1087.3,320.3 L1087.9,324.0 L1088.5,327.7 L1089.0,329.3 L1089.6,325.9 L1090.1,316.5 L1090.7,303.7 L1091.3,290.9 L1091.8,281.5 L1092.4,278.1 L1092.9,281.2 L1093.4,289.6 L1093.9,301.0 L1094.4,312.4 L1094.9,320.8 L1095.4,323.9 L1095.9,319.8 L1096.5,308.6 L1097.0,293.2 L1097.5,277.9 L1098.1,266.6 L1098.6,262.5 L1099.1,264.7 L1099.6,271.0 L1100.1,280.1 L1100.7,290.1 L1101.2,299.2 L1101.7,305.5 L1102.2,307.7 L1102.8,304.2 L1103.4,295.6 L1104.0,287.0 L1104.6,283.5 L1105.2,287.3 L1105.7,297.6 L1106.3,311.6 L1106.9,325.6 L1107.4,335.9 L1108.0,339.7 L1108.6,336.4 L1109.1,327.7 L1109.7,317.1 L1110.2,308.4 L1110.8,305.1 L1111.4,307.8 L1111.9,315.2 L1112.5,325.4 L1113.1,335.6 L1113.6,343.0 L1114.2,345.7 L1114.7,341.1 L1115.2,329.2 L1115.8,314.4 L1116.3,302.5 L1116.8,297.9 L1117.3,299.8 L1117.8,305.1 L1118.3,312.8 L1118.8,321.4 L1119.3,329.1 L1119.8,334.4 L1120.3,336.3 L1120.8,333.1 L1121.4,324.7 L1121.9,314.3 L1122.5,305.9 L1123.0,302.7 L1123.5,304.6 L1124.0,309.9 L1124.5,317.5 L1125.0,325.9 L1125.5,333.5 L1126.0,338.8 L1126.5,340.7 L1127.0,338.0 L1127.5,331.0 L1128.0,322.4 L1128.5,315.4 L1129.0,312.7 L1129.5,313.5 L1130.0,315.9 L1130.5,319.4 L1131.0,323.5 L1131.5,327.7 L1132.0,331.2 L1132.5,333.6 L1133.0,334.4 L1133.6,332.6 L1134.1,327.9 L1134.7,322.0 L1135.2,317.3 L1135.8,315.5 L1136.3,315.7 L1136.9,316.4 L1137.4,317.4 L1138.0,318.4 L1138.5,319.4 L1139.1,320.1 L1139.6,320.3 L1140.1,317.5 L1140.7,309.6 L1141.2,298.2 L1141.8,285.6 L1142.3,274.2 L1142.9,266.3 L1143.4,263.5 L1144.0,266.4 L1144.5,274.5 L1145.1,285.5 L1145.7,296.5 L1146.2,304.6 L1146.8,307.5 L1147.3,306.5 L1147.8,303.9 L1148.3,300.3 L1148.8,296.7 L1149.3,294.1 L1149.8,293.1 L1150.3,298.7 L1150.8,312.1 L1151.3,325.5 L1151.8,331.1 L1152.3,329.5 L1152.8,324.9 L1153.3,318.0 L1153.8,309.9 L1154.3,301.8 L1154.8,294.9 L1155.3,290.3 L1155.8,288.7 L1156.3,292.0 L1156.9,300.9 L1157.4,313.2 L1157.9,325.4 L1158.5,334.4 L1159.0,337.7 L1159.5,334.2 L1160.1,324.6 L1160.6,311.5 L1161.1,298.4 L1161.7,288.8 L1162.2,285.3 L1162.8,289.3 L1163.3,300.2 L1163.8,315.1 L1164.4,330.1 L1165.0,341.0 L1165.5,345.0 L1166.1,340.4 L1166.7,328.5 L1167.2,313.6 L1167.8,301.7 L1168.4,297.1 L1168.9,301.1 L1169.4,311.9 L1170.0,326.8 L1170.5,341.6 L1171.0,352.5 L1171.5,356.5 L1172.1,350.9 L1172.7,336.3 L1173.2,318.1 L1173.8,303.5 L1174.4,297.9 L1174.9,301.9 L1175.4,312.7 L1176.0,327.5 L1176.5,342.3 L1177.0,353.1 L1177.5,357.1 L1178.0,353.1 L1178.5,342.0 L1179.0,326.9 L1179.6,311.8 L1180.1,300.7 L1180.6,296.7 L1181.1,300.2 L1181.7,309.8 L1182.2,322.8 L1182.7,335.8 L1183.3,345.4 L1183.8,348.9 L1184.4,342.5 L1184.9,325.7 L1185.5,304.9 L1186.0,288.1 L1186.6,281.7 L1187.2,284.1 L1187.7,290.8 L1188.3,299.8 L1188.9,308.8 L1189.4,315.5 L1190.0,317.9 L1190.5,314.4 L1191.0,305.4 L1191.6,294.2 L1192.1,285.2 L1192.6,281.7 L1193.1,284.1 L1193.7,290.8 L1194.2,300.4 L1194.7,311.1 L1195.2,320.7 L1195.8,327.4 L1196.3,329.8 L1196.8,325.7 L1197.3,314.8 L1197.8,301.5 L1198.3,290.6 L1198.8,286.5 L1199.3,288.7 L1199.9,295.0 L1200.4,304.1 L1201.0,314.1 L1201.5,323.2 L1202.1,329.5 L1202.6,331.7 L1203.1,330.5 L1203.6,327.1 L1204.2,322.1 L1204.7,316.1 L1205.2,310.1 L1205.8,305.1 L1206.3,301.7 L1206.8,300.5 L1207.4,301.6 L1207.9,304.2 L1208.5,306.9 L1209.1,308.0 L1209.7,304.6 L1210.4,297.9 L1211.0,294.5 L1211.5,295.0 L1212.1,296.5 L1212.7,298.8 L1213.2,301.4 L1213.8,304.0 L1214.3,306.3 L1214.9,307.8 L1215.4,308.3 L1215.9,307.2 L1216.4,304.1 L1216.9,299.5 L1217.5,294.1 L1218.0,288.7 L1218.5,284.1 L1219.0,281.0 L1219.5,279.9 L1220.1,281.5 L1220.7,285.6 L1221.2,290.6 L1221.8,294.7 L1222.4,296.3 L1222.9,295.0 L1223.5,291.4 L1224.0,286.5 L1224.5,281.6 L1225.1,278.0 L1225.6,276.7 L1226.2,279.2 L1226.7,285.9 L1227.3,294.0 L1227.8,300.7 L1228.4,303.2 L1229.0,300.8 L1229.5,294.3 L1230.1,285.4 L1230.7,276.6 L1231.2,270.1 L1231.8,267.7 L1232.3,269.8 L1232.9,275.4 L1233.4,283.2 L1233.9,290.9 L1234.5,296.6 L1235.0,298.7 L1235.6,296.8 L1236.1,291.9 L1236.7,285.9 L1237.2,281.0 L1237.8,279.1 L1238.3,281.9 L1238.8,289.7 L1239.3,300.3 L1239.8,310.9 L1240.3,318.7 L1240.8,321.5 L1241.3,319.0 L1241.8,312.2 L1242.3,302.8 L1242.8,293.5 L1243.3,286.6 L1243.8,284.1 L1244.3,287.2 L1244.9,295.9 L1245.4,307.6 L1245.9,319.3 L1246.5,328.0 L1247.0,331.1 L1247.6,327.6 L1248.1,318.5 L1248.7,307.3 L1249.2,298.2 L1249.8,294.7 L1250.3,297.4 L1250.8,304.8 L1251.3,315.0 L1251.8,325.1 L1252.3,332.6 L1252.8,335.3 L1253.3,332.1 L1253.9,323.2 L1254.4,311.1 L1254.9,299.0 L1255.5,290.1 L1256.0,286.9 L1256.5,290.0 L1257.0,298.4 L1257.5,309.9 L1258.0,321.4 L1258.5,329.8 L1259.0,332.9 L1259.5,329.8 L1260.1,321.4 L1260.6,309.9 L1261.1,298.4 L1261.7,290.0 L1262.2,286.9 L1262.7,290.1 L1263.2,298.9 L1263.7,310.8 L1264.2,322.8 L1264.7,331.5 L1265.2,334.7 L1265.7,331.8 L1266.2,323.8 L1266.7,312.9 L1267.2,302.0 L1267.7,294.0 L1268.2,291.1 L1268.7,294.0 L1269.3,301.9 L1269.8,312.6 L1270.3,323.3 L1270.9,331.2 L1271.4,334.1 L1271.9,329.4 L1272.4,317.1 L1273.0,301.9 L1273.5,289.6 L1274.0,284.9 L1274.5,287.5 L1275.1,294.6 L1275.6,305.0 L1276.2,316.4 L1276.7,326.8 L1277.3,333.9 L1277.8,336.5 L1278.4,331.6 L1279.0,319.8 L1279.6,308.0 L1280.2,303.1 L1280.8,304.7 L1281.3,309.1 L1281.9,315.0 L1282.5,320.9 L1283.0,325.3 L1283.6,326.9 L1284.2,322.8 L1284.7,312.1 L1285.3,298.9 L1285.8,288.2 L1286.4,284.1 L1286.9,285.9 L1287.4,291.0 L1287.9,298.4 L1288.5,306.6 L1289.0,314.0 L1289.5,319.1 L1290.0,320.9 L1290.6,317.0 L1291.2,307.5 L1291.8,298.0 L1292.4,294.1 L1292.9,294.9 L1293.4,297.2 L1293.9,300.8 L1294.4,305.2 L1295.0,309.8 L1295.5,314.2 L1296.0,317.8 L1296.5,320.1 L1297.0,320.9 L1297.5,319.9 L1298.1,317.0 L1298.7,312.6 L1299.2,307.5 L1299.8,302.4 L1300.3,298.0 L1300.9,295.1 L1301.4,294.1 L1302.0,294.5 L1302.6,295.3 L1303.2,295.7 L1303.8,293.7 L1304.3,288.4 L1304.9,281.1 L1305.5,273.8 L1306.0,268.5 L1306.6,266.5 L1307.1,270.3 L1307.7,280.8 L1308.2,295.2 L1308.7,309.5 L1309.3,320.1 L1309.8,323.9 L1310.3,322.7 L1310.8,319.3 L1311.3,314.4 L1311.9,309.0 L1312.4,304.1 L1312.9,300.7 L1313.4,299.5 L1314.0,303.5 L1314.5,313.9 L1315.1,326.9 L1315.6,337.3 L1316.2,341.3 L1316.7,338.7 L1317.3,331.8 L1317.8,322.2 L1318.3,312.7 L1318.9,305.7 L1319.4,303.1 L1319.9,307.5 L1320.4,318.9 L1321.0,333.1 L1321.5,344.5 L1322.0,348.9 L1322.5,345.8 L1323.1,337.0 L1323.6,324.3 L1324.2,310.3 L1324.7,297.6 L1325.3,288.8 L1325.8,285.7 L1326.3,291.7 L1326.9,308.2 L1327.4,330.7 L1327.9,353.2 L1328.5,369.7 L1329.0,375.7 L1329.5,372.7 L1330.0,364.6 L1330.5,353.5 L1331.0,342.4 L1331.5,334.3 L1332.0,331.3 L1332.5,334.2 L1333.0,342.1 L1333.5,352.8 L1334.0,363.6 L1334.5,371.4 L1335.0,374.3 L1335.5,369.4 L1336.0,356.1 L1336.5,337.8 L1337.0,319.6 L1337.5,306.2 L1338.0,301.3 L1338.6,306.2 L1339.1,319.8 L1339.7,338.2 L1340.3,356.6 L1340.8,370.2 L1341.4,375.1 L1341.9,369.4 L1342.4,354.6 L1343.0,336.4 L1343.5,321.6 L1344.0,315.9 L1344.6,318.7 L1345.1,326.5 L1345.7,337.1 L1346.3,347.7 L1346.8,355.5 L1347.4,358.3 L1347.9,353.0 L1348.4,339.0 L1349.0,321.8 L1349.5,307.8 L1350.0,302.5 L1350.5,305.2 L1351.0,312.9 L1351.5,324.0 L1352.1,336.2 L1352.6,347.3 L1353.1,355.0 L1353.6,357.7 L1354.2,351.7 L1354.8,337.4 L1355.4,323.0 L1356.0,317.0 L1356.5,319.0 L1357.0,324.7 L1357.5,333.3 L1358.0,343.3 L1358.5,353.4 L1359.0,362.0 L1359.5,367.7 L1360.0,369.7 L1360.5,365.7 L1361.0,355.1 L1361.6,341.9 L1362.1,331.3 L1362.6,327.3 L1363.1,329.4 L1363.6,335.1 L1364.1,343.0 L1364.6,350.8 L1365.1,356.6 L1365.6,358.7 L1366.2,355.4 L1366.8,347.5 L1367.4,339.6 L1368.0,336.3 L1368.5,336.5 L1369.0,337.0 L1369.5,337.2 L1370.0,335.9 L1370.5,333.4 L1371.0,332.1 L1371.5,332.2 L1372.1,332.6 L1372.6,332.7 L1373.2,329.7 L1373.7,323.7 L1374.3,320.7 L1374.8,321.2 L1375.3,322.2 L1375.8,322.7 L1376.3,322.7 L1376.9,322.7 L1377.4,322.7 L1377.9,324.2 L1378.4,327.9 L1378.9,331.6 L1379.4,333.1 L1379.9,331.9 L1380.4,328.6 L1380.9,323.8 L1381.5,318.6 L1382.0,313.8 L1382.5,310.5 L1383.0,309.3 L1383.6,311.2 L1384.1,316.3 L1384.7,322.5 L1385.2,327.6 L1385.8,329.5 L1386.3,328.1 L1386.8,324.3 L1387.3,318.8 L1387.8,312.8 L1388.3,307.3 L1388.8,303.5 L1389.3,302.1 L1389.8,303.7 L1390.4,307.9 L1390.9,313.7 L1391.5,319.5 L1392.0,323.7 L1392.6,325.3 L1393.1,323.0 L1393.6,316.6 L1394.1,307.8 L1394.6,299.1 L1395.1,292.6 L1395.6,290.3 L1396.2,291.8 L1396.8,295.5 L1397.4,299.2 L1398.0,300.7 L1398.6,297.4 L1399.1,288.5 L1399.7,276.3 L1400.3,264.1 L1400.8,255.2 L1401.4,251.9 L1401.9,255.5 L1402.5,265.7 L1403.0,280.4 L1403.6,296.8 L1404.1,311.5 L1404.7,321.7 L1405.2,325.3 L1405.8,321.0 L1406.3,309.8 L1406.9,296.0 L1407.4,284.8 L1408.0,280.5 L1408.5,281.9 L1409.0,285.2 L1409.5,288.5 L1410.0,289.9 L1410.6,286.4 L1411.1,276.8 L1411.7,263.6 L1412.3,250.5 L1412.8,240.8 L1413.4,237.3 L1413.9,240.7 L1414.5,249.8 L1415.0,262.4 L1415.5,274.9 L1416.1,284.1 L1416.6,287.5 L1417.2,282.9 L1417.7,271.0 L1418.3,256.2 L1418.8,244.3 L1419.4,239.7 L1419.9,242.7 L1420.5,251.2 L1421.0,263.4 L1421.5,277.0 L1422.0,289.2 L1422.6,297.7 L1423.1,300.7 L1423.6,296.5 L1424.1,285.5 L1424.6,271.9 L1425.1,260.9 L1425.6,256.7 L1426.1,258.2 L1426.6,261.9 L1427.1,265.6 L1427.6,267.1 L1428.2,261.8 L1428.8,248.0 L1429.3,230.9 L1429.9,217.1 L1430.5,211.8" stroke="#f00" stroke-width="2.9"/>
</g>
<rect x="86.6" y="80.5" width="1409.8000000000002" height="386.9" fill="none" stroke="#000" stroke-width="1.11"/>
<g stroke="#000" stroke-width="1.11">
<line x1="187.50" y1="467.4" x2="187.50" y2="472.5"/>
<line x1="363.50" y1="467.4" x2="363.50" y2="472.5"/>
<line x1="544.50" y1="467.4" x2="544.50" y2="472.5"/>
<line x1="725.50" y1="467.4" x2="725.50" y2="472.5"/>
<line x1="901.50" y1="467.4" x2="901.50" y2="472.5"/>
<line x1="1082.50" y1="467.4" x2="1082.50" y2="472.5"/>
<line x1="1258.50" y1="467.4" x2="1258.50" y2="472.5"/>
<line x1="1439.50" y1="467.4" x2="1439.50" y2="472.5"/>
<line x1="81.39999999999999" y1="120.50" x2="86.6" y2="120.50"/>
<line x1="81.39999999999999" y1="192.50" x2="86.6" y2="192.50"/>
<line x1="81.39999999999999" y1="265.50" x2="86.6" y2="265.50"/>
<line x1="81.39999999999999" y1="337.50" x2="86.6" y2="337.50"/>
<line x1="81.39999999999999" y1="409.50" x2="86.6" y2="409.50"/>
</g>
<g font-size="19.44" text-anchor="middle">
<text x="187.00" y="491.8" textLength="80.6" lengthAdjust="spacingAndGlyphs">2012-06</text>
<text x="362.50" y="491.8" textLength="80.6" lengthAdjust="spacingAndGlyphs">2012-07</text>
<text x="543.85" y="491.8" textLength="80.6" lengthAdjust="spacingAndGlyphs">2012-08</text>
<text x="725.20" y="491.8" textLength="80.6" lengthAdjust="spacingAndGlyphs">2012-09</text>
<text x="900.70" y="491.8" textLength="80.6" lengthAdjust="spacingAndGlyphs">2012-10</text>
<text x="1082.05" y="491.8" textLength="80.6" lengthAdjust="spacingAndGlyphs">2012-11</text>
<text x="1257.55" y="491.8" textLength="80.6" lengthAdjust="spacingAndGlyphs">2012-12</text>
<text x="1438.90" y="491.8" textLength="80.6" lengthAdjust="spacingAndGlyphs">2013-01</text>
</g>
<g font-size="19.44" text-anchor="end">
<text x="75.3" y="127.98" textLength="30.2" lengthAdjust="spacingAndGlyphs">0.6</text>
<text x="75.3" y="200.22" textLength="30.2" lengthAdjust="spacingAndGlyphs">0.4</text>
<text x="75.3" y="272.46" textLength="30.2" lengthAdjust="spacingAndGlyphs">0.2</text>
<text x="75.3" y="344.70" textLength="30.2" lengthAdjust="spacingAndGlyphs">0.0</text>
<text x="75.3" y="416.94" textLength="46.2" lengthAdjust="spacingAndGlyphs">−0.2</text>
</g>
<text font-size="19.44" text-anchor="middle" transform="translate(18.1,275) rotate(-90)">Sea surface height [m]</text>
<rect x="93.6" y="87.4" width="91" height="45.8" rx="2.8" ry="2.8" fill="#fff" fill-opacity="0.8" stroke="#ccc" stroke-width="1.11"/>
<line x1="97.0" y1="99.3" x2="127.8" y2="99.3" stroke="#000" stroke-width="2.78"/>
<line x1="97.0" y1="120.4" x2="127.8" y2="120.4" stroke="#f00" stroke-width="2.78"/>
<g font-size="13.89"><text x="138" y="104.2" textLength="30.3" lengthAdjust="spacingAndGlyphs">data</text><text x="138" y="125.3" textLength="40.0" lengthAdjust="spacingAndGlyphs">CIOFS</text></g>
</svg></body></html>
